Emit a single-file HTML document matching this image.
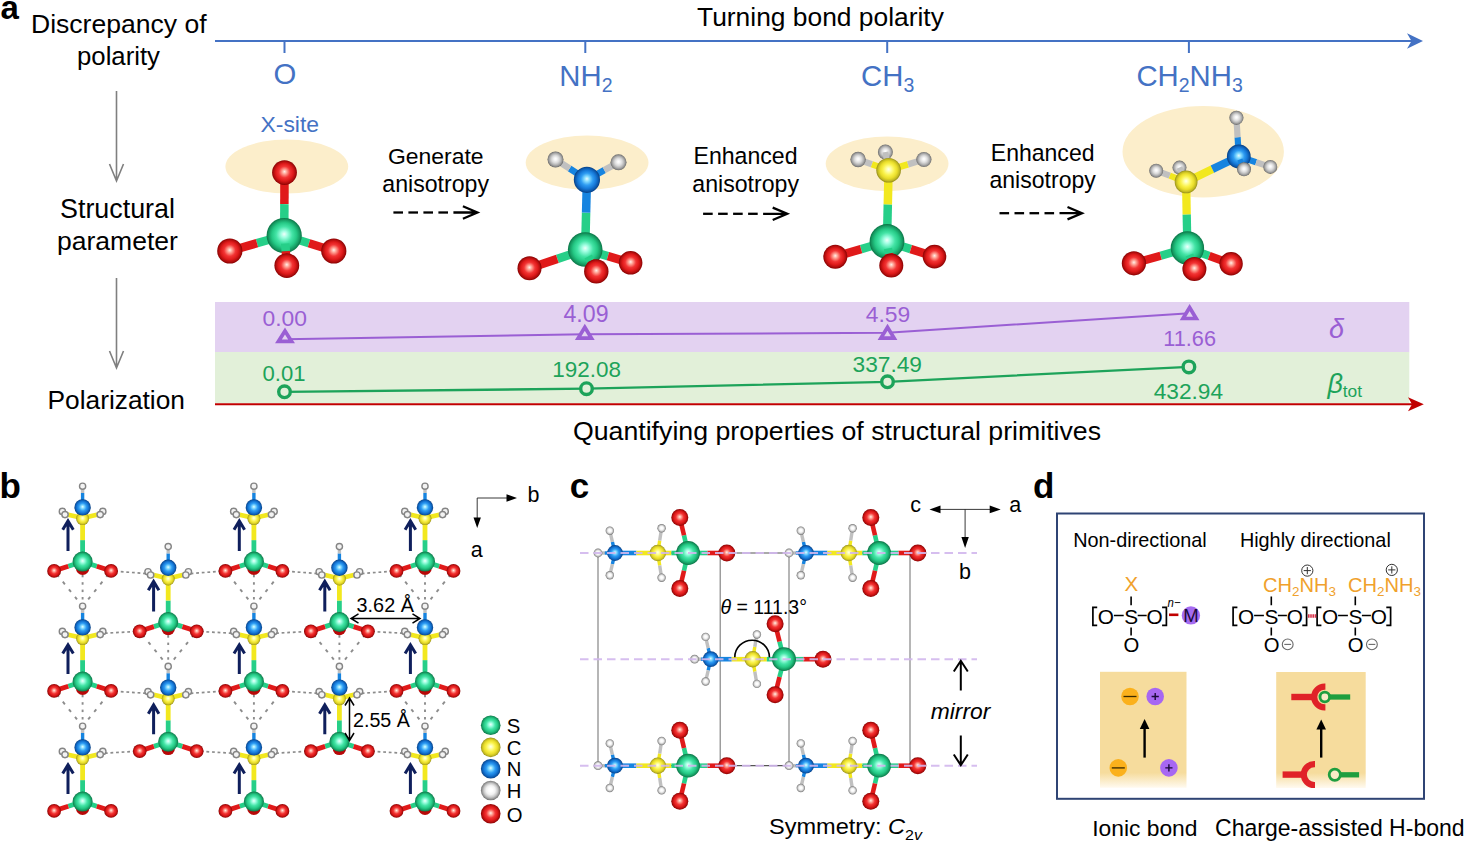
<!DOCTYPE html><html><head><meta charset="utf-8"><style>html,body{margin:0;padding:0;background:#fff}svg{display:block}svg,svg text,svg tspan{font-family:"Liberation Sans",sans-serif}</style></head><body>
<svg width="1466" height="843" viewBox="0 0 1466 843" >
<defs>
<radialGradient id="gO" cx="0.5" cy="0.5" r="0.5" fx="0.5" fy="0.46"><stop offset="0" stop-color="#fff0ea"/><stop offset="0.18" stop-color="#ffa698"/><stop offset="0.46" stop-color="#f23434"/><stop offset="0.7" stop-color="#de1a1a"/><stop offset="0.88" stop-color="#b00d0d"/><stop offset="1" stop-color="#860000"/></radialGradient>
<radialGradient id="gS" cx="0.5" cy="0.5" r="0.5" fx="0.5" fy="0.46"><stop offset="0" stop-color="#f0fffa"/><stop offset="0.18" stop-color="#a4ffe4"/><stop offset="0.46" stop-color="#44e4a6"/><stop offset="0.7" stop-color="#25c985"/><stop offset="0.88" stop-color="#169c63"/><stop offset="1" stop-color="#0b7446"/></radialGradient>
<radialGradient id="gN" cx="0.5" cy="0.5" r="0.5" fx="0.5" fy="0.46"><stop offset="0" stop-color="#e8fbff"/><stop offset="0.18" stop-color="#8ce0ff"/><stop offset="0.46" stop-color="#2e9cf2"/><stop offset="0.7" stop-color="#1679d8"/><stop offset="0.88" stop-color="#0c5aae"/><stop offset="1" stop-color="#073e82"/></radialGradient>
<radialGradient id="gC" cx="0.5" cy="0.5" r="0.5" fx="0.5" fy="0.46"><stop offset="0" stop-color="#fffff0"/><stop offset="0.18" stop-color="#ffffaa"/><stop offset="0.46" stop-color="#faf24c"/><stop offset="0.7" stop-color="#e9dd2a"/><stop offset="0.88" stop-color="#c2b922"/><stop offset="1" stop-color="#948c18"/></radialGradient>
<radialGradient id="gH" cx="0.5" cy="0.5" r="0.5" fx="0.5" fy="0.46"><stop offset="0" stop-color="#ffffff"/><stop offset="0.18" stop-color="#ffffff"/><stop offset="0.46" stop-color="#f2f2f2"/><stop offset="0.7" stop-color="#cacaca"/><stop offset="0.88" stop-color="#989898"/><stop offset="1" stop-color="#707070"/></radialGradient>
<radialGradient id="gG" cx="0.5" cy="0.5" r="0.5" fx="0.5" fy="0.46"><stop offset="0" stop-color="#ffffff"/><stop offset="0.18" stop-color="#f6f6f6"/><stop offset="0.46" stop-color="#dadada"/><stop offset="0.7" stop-color="#b4b4b4"/><stop offset="0.88" stop-color="#8e8e8e"/><stop offset="1" stop-color="#646464"/></radialGradient>
<linearGradient id="tanfade" x1="0" y1="0" x2="0" y2="1"><stop offset="0" stop-color="#f6dc9d"/><stop offset="0.87" stop-color="#f6dc9d"/><stop offset="1" stop-color="#fffaf0"/></linearGradient>
</defs>
<rect width="1466" height="843" fill="#fff"/>
<text x="0.5" y="19.3" font-size="33" fill="#000" font-weight="bold" >a</text>
<text x="31.0" y="33.0" font-size="26.55" fill="#000" textLength="175.6" lengthAdjust="spacingAndGlyphs" >Discrepancy of</text>
<text x="77.0" y="64.8" font-size="25.74" fill="#000" textLength="83.0" lengthAdjust="spacingAndGlyphs" >polarity</text>
<text x="57.0" y="250.0" font-size="26.54" fill="#000" textLength="120.9" lengthAdjust="spacingAndGlyphs" >parameter</text>
<text x="60.0" y="218.2" font-size="26.87" fill="#000" textLength="115.0" lengthAdjust="spacingAndGlyphs" >Structural</text>
<text x="47.5" y="409.2" font-size="26.32" fill="#000" textLength="137.5" lengthAdjust="spacingAndGlyphs" >Polarization</text>
<text x="697.0" y="26.4" font-size="26.39" fill="#000" textLength="246.9" lengthAdjust="spacingAndGlyphs" >Turning bond polarity</text>
<text x="573.0" y="439.6" font-size="26.69" fill="#000" textLength="528.0" lengthAdjust="spacingAndGlyphs" >Quantifying properties of structural primitives</text>
<path d="M116.5 91 V181 M109.5 164 L116.5 181 L123.5 164" fill="none" stroke="#7f7f7f" stroke-width="1.6"/>
<path d="M116.5 278 V368 M109.5 351 L116.5 368 L123.5 351" fill="none" stroke="#7f7f7f" stroke-width="1.6"/>
<line x1="215" y1="41" x2="1412" y2="41" stroke="#4472c4" stroke-width="2"/>
<path d="M1423 41 L1407 33.2 L1411.5 41 L1407 48.8 Z" fill="#4472c4"/>
<line x1="284.5" y1="41" x2="284.5" y2="53" stroke="#4472c4" stroke-width="2"/>
<line x1="585.3" y1="41" x2="585.3" y2="53" stroke="#4472c4" stroke-width="2"/>
<line x1="887.2" y1="41" x2="887.2" y2="53" stroke="#4472c4" stroke-width="2"/>
<line x1="1188.9" y1="41" x2="1188.9" y2="53" stroke="#4472c4" stroke-width="2"/>
<text x="285.0" y="83.6" font-size="29.3" fill="#4472c4" text-anchor="middle" >O</text>
<text x="585.9" y="86.3" font-size="29.3" fill="#4472c4" text-anchor="middle" >NH<tspan font-size="19.5" dy="5.5">2</tspan></text>
<text x="887.7" y="86.3" font-size="29.3" fill="#4472c4" text-anchor="middle" >CH<tspan font-size="19.5" dy="5.5">3</tspan></text>
<text x="1189.6" y="86.3" font-size="29.3" fill="#4472c4" text-anchor="middle" >CH<tspan font-size="19.5" dy="5.5">2</tspan><tspan dy="-5.5">NH</tspan><tspan font-size="19.5" dy="5.5">3</tspan></text>
<text x="260.5" y="131.8" font-size="22.9" fill="#4472c4" textLength="58.5" lengthAdjust="spacingAndGlyphs" >X-site</text>
<ellipse cx="286.8" cy="166.5" rx="61.4" ry="27" fill="#fceecb"/>
<ellipse cx="587.1" cy="162.7" rx="61.4" ry="27.2" fill="#fceecb"/>
<ellipse cx="887.1" cy="163.8" rx="61.4" ry="27.4" fill="#fceecb"/>
<ellipse cx="1203.2" cy="151.8" rx="80.7" ry="45.8" fill="#fceecb"/>
<text x="388.0" y="163.5" font-size="22.9" fill="#000" textLength="95.5" lengthAdjust="spacingAndGlyphs" >Generate</text>
<text x="382.3" y="191.5" font-size="23.12" fill="#000" textLength="106.7" lengthAdjust="spacingAndGlyphs" >anisotropy</text>
<text x="693.5" y="163.5" font-size="23.09" fill="#000" textLength="104.0" lengthAdjust="spacingAndGlyphs" >Enhanced</text>
<text x="692.3" y="191.5" font-size="23.12" fill="#000" textLength="106.7" lengthAdjust="spacingAndGlyphs" >anisotropy</text>
<text x="990.8" y="161.2" font-size="23.02" fill="#000" textLength="103.7" lengthAdjust="spacingAndGlyphs" >Enhanced</text>
<text x="989.5" y="188.3" font-size="23.03" fill="#000" textLength="106.3" lengthAdjust="spacingAndGlyphs" >anisotropy</text>
<line x1="393.4" y1="212.5" x2="403.0" y2="212.5" stroke="#000" stroke-width="2.3"/>
<line x1="408.4" y1="212.5" x2="418.0" y2="212.5" stroke="#000" stroke-width="2.3"/>
<line x1="423.4" y1="212.5" x2="433.0" y2="212.5" stroke="#000" stroke-width="2.3"/>
<line x1="438.4" y1="212.5" x2="448.0" y2="212.5" stroke="#000" stroke-width="2.3"/>
<path d="M453.4 212.5 H475.4 M462.9 206.3 L477.4 212.5 L462.9 218.7" fill="none" stroke="#000" stroke-width="2.3"/>
<line x1="703.1" y1="213.8" x2="712.7" y2="213.8" stroke="#000" stroke-width="2.3"/>
<line x1="718.1" y1="213.8" x2="727.7" y2="213.8" stroke="#000" stroke-width="2.3"/>
<line x1="733.1" y1="213.8" x2="742.7" y2="213.8" stroke="#000" stroke-width="2.3"/>
<line x1="748.1" y1="213.8" x2="757.7" y2="213.8" stroke="#000" stroke-width="2.3"/>
<path d="M763.1 213.8 H785.2 M772.7 207.60000000000002 L787.2 213.8 L772.7 220.0" fill="none" stroke="#000" stroke-width="2.3"/>
<line x1="999.5" y1="213.2" x2="1009.1" y2="213.2" stroke="#000" stroke-width="2.3"/>
<line x1="1014.5" y1="213.2" x2="1024.1" y2="213.2" stroke="#000" stroke-width="2.3"/>
<line x1="1029.5" y1="213.2" x2="1039.1" y2="213.2" stroke="#000" stroke-width="2.3"/>
<line x1="1044.5" y1="213.2" x2="1054.1" y2="213.2" stroke="#000" stroke-width="2.3"/>
<path d="M1059.5 213.2 H1080 M1067.5 207.0 L1082 213.2 L1067.5 219.39999999999998" fill="none" stroke="#000" stroke-width="2.3"/>
<line x1="284.2" y1="235.5" x2="284.4" y2="204.1" stroke="#26cf88" stroke-width="8.5"/>
<line x1="284.4" y1="204.1" x2="284.5" y2="172.6" stroke="#e01a1a" stroke-width="8.5"/>
<line x1="284.2" y1="235.5" x2="257.0" y2="243.2" stroke="#26cf88" stroke-width="8.5"/>
<line x1="257.0" y1="243.2" x2="229.8" y2="251.0" stroke="#e01a1a" stroke-width="8.5"/>
<line x1="284.2" y1="235.5" x2="309.0" y2="243.2" stroke="#26cf88" stroke-width="8.5"/>
<line x1="309.0" y1="243.2" x2="333.8" y2="251.0" stroke="#e01a1a" stroke-width="8.5"/>
<circle cx="284.5" cy="172.6" r="12.4" fill="url(#gO)"/>
<circle cx="229.8" cy="251.0" r="12.6" fill="url(#gO)"/>
<circle cx="333.8" cy="251.0" r="12.6" fill="url(#gO)"/>
<circle cx="284.2" cy="235.5" r="17.6" fill="url(#gS)"/>
<line x1="285.2" y1="243.5" x2="285.8" y2="251.2" stroke="#26cf88" stroke-width="8.5"/>
<line x1="285.8" y1="251.2" x2="286.8" y2="265.6" stroke="#e01a1a" stroke-width="8.5"/>
<circle cx="286.8" cy="265.6" r="12.4" fill="url(#gO)"/>
<line x1="585.2" y1="249.5" x2="586.1" y2="212.6" stroke="#26cf88" stroke-width="8.5"/>
<line x1="586.1" y1="212.6" x2="586.9" y2="179.8" stroke="#1684e0" stroke-width="8.5"/>
<line x1="586.9" y1="179.8" x2="569.6" y2="168.6" stroke="#1684e0" stroke-width="6.5"/>
<line x1="569.6" y1="168.6" x2="555.5" y2="159.5" stroke="#c0c0c0" stroke-width="6.5"/>
<line x1="586.9" y1="179.8" x2="604.3" y2="170.2" stroke="#1684e0" stroke-width="6.5"/>
<line x1="604.3" y1="170.2" x2="618.5" y2="162.3" stroke="#c0c0c0" stroke-width="6.5"/>
<line x1="585.2" y1="249.5" x2="557.4" y2="258.9" stroke="#26cf88" stroke-width="8.5"/>
<line x1="557.4" y1="258.9" x2="529.5" y2="268.3" stroke="#e01a1a" stroke-width="8.5"/>
<line x1="585.2" y1="249.5" x2="607.9" y2="256.1" stroke="#26cf88" stroke-width="8.5"/>
<line x1="607.9" y1="256.1" x2="630.6" y2="262.8" stroke="#e01a1a" stroke-width="8.5"/>
<circle cx="555.5" cy="159.5" r="8.0" fill="url(#gG)"/>
<circle cx="618.5" cy="162.3" r="8.0" fill="url(#gG)"/>
<circle cx="586.9" cy="179.8" r="13.1" fill="url(#gN)"/>
<circle cx="529.5" cy="268.3" r="12.0" fill="url(#gO)"/>
<circle cx="630.6" cy="262.8" r="11.8" fill="url(#gO)"/>
<circle cx="585.2" cy="249.5" r="17.3" fill="url(#gS)"/>
<line x1="588.2" y1="256.5" x2="590.6" y2="261.0" stroke="#26cf88" stroke-width="8.5"/>
<line x1="590.6" y1="261.0" x2="596.3" y2="271.4" stroke="#e01a1a" stroke-width="8.5"/>
<circle cx="596.3" cy="271.4" r="12.2" fill="url(#gO)"/>
<circle cx="885.4" cy="152.0" r="7.5" fill="url(#gG)"/>
<line x1="888.6" y1="170.2" x2="887.0" y2="161.1" stroke="#f2e81e" stroke-width="6"/>
<line x1="887.0" y1="161.1" x2="885.4" y2="152.0" stroke="#c0c0c0" stroke-width="6"/>
<line x1="887.0" y1="241.5" x2="887.8" y2="204.4" stroke="#26cf88" stroke-width="8.5"/>
<line x1="887.8" y1="204.4" x2="888.6" y2="170.2" stroke="#f2e81e" stroke-width="8.5"/>
<line x1="888.6" y1="170.2" x2="871.8" y2="164.3" stroke="#f2e81e" stroke-width="6.5"/>
<line x1="871.8" y1="164.3" x2="858.1" y2="159.5" stroke="#c0c0c0" stroke-width="6.5"/>
<line x1="888.6" y1="170.2" x2="908.0" y2="164.3" stroke="#f2e81e" stroke-width="6.5"/>
<line x1="908.0" y1="164.3" x2="923.9" y2="159.5" stroke="#c0c0c0" stroke-width="6.5"/>
<line x1="887.0" y1="241.5" x2="861.1" y2="249.1" stroke="#26cf88" stroke-width="8.5"/>
<line x1="861.1" y1="249.1" x2="835.3" y2="256.7" stroke="#e01a1a" stroke-width="8.5"/>
<line x1="887.0" y1="241.5" x2="910.8" y2="249.1" stroke="#26cf88" stroke-width="8.5"/>
<line x1="910.8" y1="249.1" x2="934.5" y2="256.6" stroke="#e01a1a" stroke-width="8.5"/>
<circle cx="858.1" cy="159.5" r="7.7" fill="url(#gG)"/>
<circle cx="923.9" cy="159.5" r="7.6" fill="url(#gG)"/>
<circle cx="888.6" cy="170.2" r="12.3" fill="url(#gC)"/>
<circle cx="835.3" cy="256.7" r="12.0" fill="url(#gO)"/>
<circle cx="934.5" cy="256.6" r="11.8" fill="url(#gO)"/>
<circle cx="887.0" cy="241.5" r="17.4" fill="url(#gS)"/>
<line x1="888.0" y1="248.5" x2="889.0" y2="253.6" stroke="#26cf88" stroke-width="8.5"/>
<line x1="889.0" y1="253.6" x2="891.3" y2="265.6" stroke="#e01a1a" stroke-width="8.5"/>
<circle cx="891.3" cy="265.6" r="12.0" fill="url(#gO)"/>
<circle cx="1179.5" cy="167.6" r="7.0" fill="url(#gG)"/>
<line x1="1186.1" y1="181.9" x2="1182.8" y2="174.8" stroke="#f2e81e" stroke-width="6"/>
<line x1="1182.8" y1="174.8" x2="1179.5" y2="167.6" stroke="#c0c0c0" stroke-width="6"/>
<line x1="1187.4" y1="248.0" x2="1186.7" y2="214.3" stroke="#26cf88" stroke-width="8.3"/>
<line x1="1186.7" y1="214.3" x2="1186.1" y2="181.9" stroke="#f2e81e" stroke-width="8.3"/>
<line x1="1186.1" y1="181.9" x2="1169.7" y2="175.7" stroke="#f2e81e" stroke-width="6.2"/>
<line x1="1169.7" y1="175.7" x2="1156.2" y2="170.7" stroke="#c0c0c0" stroke-width="6.2"/>
<line x1="1186.1" y1="181.9" x2="1212.4" y2="169.2" stroke="#f2e81e" stroke-width="8"/>
<line x1="1212.4" y1="169.2" x2="1238.8" y2="156.5" stroke="#1684e0" stroke-width="8"/>
<line x1="1238.8" y1="156.5" x2="1237.6" y2="137.2" stroke="#1684e0" stroke-width="6.2"/>
<line x1="1237.6" y1="137.2" x2="1236.4" y2="117.8" stroke="#c0c0c0" stroke-width="6.2"/>
<line x1="1238.8" y1="156.5" x2="1256.1" y2="162.2" stroke="#1684e0" stroke-width="6.2"/>
<line x1="1256.1" y1="162.2" x2="1270.3" y2="166.9" stroke="#c0c0c0" stroke-width="6.2"/>
<line x1="1187.4" y1="248.0" x2="1160.7" y2="255.7" stroke="#26cf88" stroke-width="8.3"/>
<line x1="1160.7" y1="255.7" x2="1133.9" y2="263.3" stroke="#e01a1a" stroke-width="8.3"/>
<line x1="1187.4" y1="248.0" x2="1209.2" y2="255.9" stroke="#26cf88" stroke-width="8.3"/>
<line x1="1209.2" y1="255.9" x2="1231.1" y2="263.8" stroke="#e01a1a" stroke-width="8.3"/>
<circle cx="1156.2" cy="170.7" r="7.0" fill="url(#gG)"/>
<circle cx="1236.4" cy="117.8" r="7.1" fill="url(#gG)"/>
<circle cx="1270.3" cy="166.9" r="7.0" fill="url(#gG)"/>
<circle cx="1186.1" cy="181.9" r="11.4" fill="url(#gC)"/>
<circle cx="1238.8" cy="156.5" r="11.9" fill="url(#gN)"/>
<line x1="1239.8" y1="159.5" x2="1241.5" y2="163.4" stroke="#1684e0" stroke-width="5.5"/>
<line x1="1241.5" y1="163.4" x2="1244.0" y2="169.3" stroke="#c0c0c0" stroke-width="5.5"/>
<circle cx="1244.0" cy="169.3" r="7.0" fill="url(#gG)"/>
<circle cx="1133.9" cy="263.3" r="12.1" fill="url(#gO)"/>
<circle cx="1231.1" cy="263.8" r="11.7" fill="url(#gO)"/>
<circle cx="1187.4" cy="248.0" r="16.7" fill="url(#gS)"/>
<line x1="1189.4" y1="255.0" x2="1190.9" y2="259.2" stroke="#26cf88" stroke-width="8.3"/>
<line x1="1190.9" y1="259.2" x2="1194.4" y2="269.0" stroke="#e01a1a" stroke-width="8.3"/>
<circle cx="1194.4" cy="269.0" r="12.0" fill="url(#gO)"/>
<rect x="215" y="302" width="1194.3" height="50.2" fill="#e3d2f1"/>
<rect x="215" y="352" width="1194.3" height="51" fill="#e2f0d9"/>
<line x1="215" y1="404.2" x2="1412" y2="404.2" stroke="#c00000" stroke-width="2"/>
<path d="M1423.8 404.2 L1408 397.2 L1412 404.2 L1408 411.2 Z" fill="#c00000"/>
<polyline points="285,339.2 584.8,334.3 887.5,332.8 1189.6,313.2" fill="none" stroke="#9a5fd4" stroke-width="2"/>
<polyline points="284.5,391.8 586.5,388.7 887.5,381.8 1188.9,366.9" fill="none" stroke="#1da35a" stroke-width="2.3"/>
<path d="M285 331.0 L291.6 341.4 L278.4 341.4 Z" fill="#e3d2f1" stroke="#9a5fd4" stroke-width="3.7" stroke-linejoin="miter"/>
<path d="M584.8 327.3 L591.4 338.1 L578.2 338.1 Z" fill="#e3d2f1" stroke="#9a5fd4" stroke-width="3.7" stroke-linejoin="miter"/>
<path d="M887.5 327.3 L894.1 338.1 L880.9 338.1 Z" fill="#e3d2f1" stroke="#9a5fd4" stroke-width="3.7" stroke-linejoin="miter"/>
<path d="M1189.6 307.5 L1196.2 318.5 L1183.0 318.5 Z" fill="#e3d2f1" stroke="#9a5fd4" stroke-width="3.7" stroke-linejoin="miter"/>
<circle cx="284.5" cy="391.8" r="5.8" fill="#e2f0d9" stroke="#1da35a" stroke-width="3.4"/>
<circle cx="586.5" cy="388.7" r="5.8" fill="#e2f0d9" stroke="#1da35a" stroke-width="3.4"/>
<circle cx="887.5" cy="381.8" r="5.8" fill="#e2f0d9" stroke="#1da35a" stroke-width="3.4"/>
<circle cx="1188.9" cy="366.9" r="5.8" fill="#e2f0d9" stroke="#1da35a" stroke-width="3.4"/>
<text x="262.5" y="326.3" font-size="22.88" fill="#9a5fd4" textLength="44.5" lengthAdjust="spacingAndGlyphs" >0.00</text>
<text x="563.5" y="322.0" font-size="23.14" fill="#9a5fd4" textLength="45.0" lengthAdjust="spacingAndGlyphs" >4.09</text>
<text x="865.8" y="321.8" font-size="22.88" fill="#9a5fd4" textLength="44.5" lengthAdjust="spacingAndGlyphs" >4.59</text>
<text x="1163.3" y="345.5" font-size="21.69" fill="#9a5fd4" textLength="52.7" lengthAdjust="spacingAndGlyphs" >11.66</text>
<text x="262.5" y="381.3" font-size="22.11" fill="#1da35a" textLength="43.0" lengthAdjust="spacingAndGlyphs" >0.01</text>
<text x="552.3" y="377.0" font-size="22.45" fill="#1da35a" textLength="68.7" lengthAdjust="spacingAndGlyphs" >192.08</text>
<text x="852.5" y="372.0" font-size="22.71" fill="#1da35a" textLength="69.5" lengthAdjust="spacingAndGlyphs" >337.49</text>
<text x="1153.7" y="398.8" font-size="22.65" fill="#1da35a" textLength="69.3" lengthAdjust="spacingAndGlyphs" >432.94</text>
<text x="1336.5" y="338.0" font-size="27" fill="#9a5fd4" text-anchor="middle" font-style="italic" >δ</text>
<text x="1327.5" y="392.5" font-size="27" fill="#1da35a" font-style="italic" >β</text>
<text x="1342.7" y="397.0" font-size="17.39" fill="#1da35a" textLength="19.3" lengthAdjust="spacingAndGlyphs" >tot</text>
<text x="-0.5" y="498.3" font-size="35" fill="#000" font-weight="bold" >b</text>
<line x1="56.8" y1="574.2" x2="58.8" y2="576.8" stroke="#8c8c8c" stroke-width="1.9"/>
<line x1="62.8" y1="581.7" x2="64.9" y2="584.3" stroke="#8c8c8c" stroke-width="1.9"/>
<line x1="68.9" y1="589.3" x2="71.0" y2="591.8" stroke="#8c8c8c" stroke-width="1.9"/>
<line x1="75.0" y1="596.8" x2="77.0" y2="599.3" stroke="#8c8c8c" stroke-width="1.9"/>
<line x1="81.1" y1="604.3" x2="83.1" y2="606.8" stroke="#8c8c8c" stroke-width="1.9"/>
<line x1="82.6" y1="574.9" x2="82.6" y2="577.3" stroke="#8c8c8c" stroke-width="1.9"/>
<line x1="82.6" y1="582.2" x2="82.6" y2="584.7" stroke="#8c8c8c" stroke-width="1.9"/>
<line x1="82.6" y1="589.6" x2="82.6" y2="592.1" stroke="#8c8c8c" stroke-width="1.9"/>
<line x1="82.6" y1="597.0" x2="82.6" y2="599.5" stroke="#8c8c8c" stroke-width="1.9"/>
<line x1="82.6" y1="604.3" x2="82.6" y2="606.8" stroke="#8c8c8c" stroke-width="1.9"/>
<line x1="108.4" y1="574.2" x2="106.4" y2="576.8" stroke="#8c8c8c" stroke-width="1.9"/>
<line x1="102.4" y1="581.7" x2="100.3" y2="584.3" stroke="#8c8c8c" stroke-width="1.9"/>
<line x1="96.3" y1="589.3" x2="94.2" y2="591.8" stroke="#8c8c8c" stroke-width="1.9"/>
<line x1="90.2" y1="596.8" x2="88.2" y2="599.3" stroke="#8c8c8c" stroke-width="1.9"/>
<line x1="84.1" y1="604.3" x2="82.1" y2="606.8" stroke="#8c8c8c" stroke-width="1.9"/>
<line x1="111.1" y1="570.9" x2="149.3" y2="573.8" stroke="#8c8c8c" stroke-width="1.7" stroke-dasharray="2.8 2.8" stroke-dashoffset="1.5" fill="none"/>
<line x1="56.8" y1="694.2" x2="58.8" y2="696.8" stroke="#8c8c8c" stroke-width="1.9"/>
<line x1="62.8" y1="701.7" x2="64.9" y2="704.3" stroke="#8c8c8c" stroke-width="1.9"/>
<line x1="68.9" y1="709.3" x2="71.0" y2="711.8" stroke="#8c8c8c" stroke-width="1.9"/>
<line x1="75.0" y1="716.8" x2="77.0" y2="719.3" stroke="#8c8c8c" stroke-width="1.9"/>
<line x1="81.1" y1="724.3" x2="83.1" y2="726.8" stroke="#8c8c8c" stroke-width="1.9"/>
<line x1="82.6" y1="694.9" x2="82.6" y2="697.3" stroke="#8c8c8c" stroke-width="1.9"/>
<line x1="82.6" y1="702.2" x2="82.6" y2="704.7" stroke="#8c8c8c" stroke-width="1.9"/>
<line x1="82.6" y1="709.6" x2="82.6" y2="712.1" stroke="#8c8c8c" stroke-width="1.9"/>
<line x1="82.6" y1="717.0" x2="82.6" y2="719.5" stroke="#8c8c8c" stroke-width="1.9"/>
<line x1="82.6" y1="724.3" x2="82.6" y2="726.8" stroke="#8c8c8c" stroke-width="1.9"/>
<line x1="108.4" y1="694.2" x2="106.4" y2="696.8" stroke="#8c8c8c" stroke-width="1.9"/>
<line x1="102.4" y1="701.7" x2="100.3" y2="704.3" stroke="#8c8c8c" stroke-width="1.9"/>
<line x1="96.3" y1="709.3" x2="94.2" y2="711.8" stroke="#8c8c8c" stroke-width="1.9"/>
<line x1="90.2" y1="716.8" x2="88.2" y2="719.3" stroke="#8c8c8c" stroke-width="1.9"/>
<line x1="84.1" y1="724.3" x2="82.1" y2="726.8" stroke="#8c8c8c" stroke-width="1.9"/>
<line x1="111.1" y1="690.9" x2="149.3" y2="693.6" stroke="#8c8c8c" stroke-width="1.7" stroke-dasharray="2.8 2.8" stroke-dashoffset="1.5" fill="none"/>
<line x1="142.4" y1="634.6" x2="144.4" y2="637.1" stroke="#8c8c8c" stroke-width="1.9"/>
<line x1="148.4" y1="642.1" x2="150.5" y2="644.6" stroke="#8c8c8c" stroke-width="1.9"/>
<line x1="154.5" y1="649.6" x2="156.6" y2="652.1" stroke="#8c8c8c" stroke-width="1.9"/>
<line x1="160.6" y1="657.0" x2="162.6" y2="659.6" stroke="#8c8c8c" stroke-width="1.9"/>
<line x1="166.7" y1="664.5" x2="168.7" y2="667.0" stroke="#8c8c8c" stroke-width="1.9"/>
<line x1="168.2" y1="635.2" x2="168.2" y2="637.7" stroke="#8c8c8c" stroke-width="1.9"/>
<line x1="168.2" y1="642.6" x2="168.2" y2="645.0" stroke="#8c8c8c" stroke-width="1.9"/>
<line x1="168.2" y1="649.9" x2="168.2" y2="652.4" stroke="#8c8c8c" stroke-width="1.9"/>
<line x1="168.2" y1="657.2" x2="168.2" y2="659.7" stroke="#8c8c8c" stroke-width="1.9"/>
<line x1="168.2" y1="664.5" x2="168.2" y2="667.0" stroke="#8c8c8c" stroke-width="1.9"/>
<line x1="194.0" y1="634.6" x2="192.0" y2="637.1" stroke="#8c8c8c" stroke-width="1.9"/>
<line x1="188.0" y1="642.1" x2="185.9" y2="644.6" stroke="#8c8c8c" stroke-width="1.9"/>
<line x1="181.9" y1="649.6" x2="179.8" y2="652.1" stroke="#8c8c8c" stroke-width="1.9"/>
<line x1="175.8" y1="657.0" x2="173.8" y2="659.6" stroke="#8c8c8c" stroke-width="1.9"/>
<line x1="169.7" y1="664.5" x2="167.7" y2="667.0" stroke="#8c8c8c" stroke-width="1.9"/>
<line x1="139.7" y1="631.3" x2="101.5" y2="633.4" stroke="#8c8c8c" stroke-width="1.7" stroke-dasharray="2.8 2.8" stroke-dashoffset="1.5" fill="none"/>
<line x1="196.7" y1="631.3" x2="235.0" y2="633.4" stroke="#8c8c8c" stroke-width="1.7" stroke-dasharray="2.8 2.8" stroke-dashoffset="1.5" fill="none"/>
<line x1="139.7" y1="751.1" x2="101.5" y2="753.4" stroke="#8c8c8c" stroke-width="1.7" stroke-dasharray="2.8 2.8" stroke-dashoffset="1.5" fill="none"/>
<line x1="196.7" y1="751.1" x2="235.0" y2="753.4" stroke="#8c8c8c" stroke-width="1.7" stroke-dasharray="2.8 2.8" stroke-dashoffset="1.5" fill="none"/>
<line x1="228.1" y1="574.2" x2="230.1" y2="576.8" stroke="#8c8c8c" stroke-width="1.9"/>
<line x1="234.1" y1="581.7" x2="236.2" y2="584.3" stroke="#8c8c8c" stroke-width="1.9"/>
<line x1="240.2" y1="589.3" x2="242.3" y2="591.8" stroke="#8c8c8c" stroke-width="1.9"/>
<line x1="246.3" y1="596.8" x2="248.3" y2="599.3" stroke="#8c8c8c" stroke-width="1.9"/>
<line x1="252.4" y1="604.3" x2="254.4" y2="606.8" stroke="#8c8c8c" stroke-width="1.9"/>
<line x1="253.9" y1="574.9" x2="253.9" y2="577.3" stroke="#8c8c8c" stroke-width="1.9"/>
<line x1="253.9" y1="582.2" x2="253.9" y2="584.7" stroke="#8c8c8c" stroke-width="1.9"/>
<line x1="253.9" y1="589.6" x2="253.9" y2="592.1" stroke="#8c8c8c" stroke-width="1.9"/>
<line x1="253.9" y1="597.0" x2="253.9" y2="599.5" stroke="#8c8c8c" stroke-width="1.9"/>
<line x1="253.9" y1="604.3" x2="253.9" y2="606.8" stroke="#8c8c8c" stroke-width="1.9"/>
<line x1="279.7" y1="574.2" x2="277.7" y2="576.8" stroke="#8c8c8c" stroke-width="1.9"/>
<line x1="273.7" y1="581.7" x2="271.6" y2="584.3" stroke="#8c8c8c" stroke-width="1.9"/>
<line x1="267.6" y1="589.3" x2="265.5" y2="591.8" stroke="#8c8c8c" stroke-width="1.9"/>
<line x1="261.5" y1="596.8" x2="259.5" y2="599.3" stroke="#8c8c8c" stroke-width="1.9"/>
<line x1="255.4" y1="604.3" x2="253.4" y2="606.8" stroke="#8c8c8c" stroke-width="1.9"/>
<line x1="225.4" y1="570.9" x2="187.1" y2="573.8" stroke="#8c8c8c" stroke-width="1.7" stroke-dasharray="2.8 2.8" stroke-dashoffset="1.5" fill="none"/>
<line x1="282.4" y1="570.9" x2="320.5" y2="573.8" stroke="#8c8c8c" stroke-width="1.7" stroke-dasharray="2.8 2.8" stroke-dashoffset="1.5" fill="none"/>
<line x1="228.1" y1="694.2" x2="230.1" y2="696.8" stroke="#8c8c8c" stroke-width="1.9"/>
<line x1="234.1" y1="701.7" x2="236.2" y2="704.3" stroke="#8c8c8c" stroke-width="1.9"/>
<line x1="240.2" y1="709.3" x2="242.3" y2="711.8" stroke="#8c8c8c" stroke-width="1.9"/>
<line x1="246.3" y1="716.8" x2="248.3" y2="719.3" stroke="#8c8c8c" stroke-width="1.9"/>
<line x1="252.4" y1="724.3" x2="254.4" y2="726.8" stroke="#8c8c8c" stroke-width="1.9"/>
<line x1="253.9" y1="694.9" x2="253.9" y2="697.3" stroke="#8c8c8c" stroke-width="1.9"/>
<line x1="253.9" y1="702.2" x2="253.9" y2="704.7" stroke="#8c8c8c" stroke-width="1.9"/>
<line x1="253.9" y1="709.6" x2="253.9" y2="712.1" stroke="#8c8c8c" stroke-width="1.9"/>
<line x1="253.9" y1="717.0" x2="253.9" y2="719.5" stroke="#8c8c8c" stroke-width="1.9"/>
<line x1="253.9" y1="724.3" x2="253.9" y2="726.8" stroke="#8c8c8c" stroke-width="1.9"/>
<line x1="279.7" y1="694.2" x2="277.7" y2="696.8" stroke="#8c8c8c" stroke-width="1.9"/>
<line x1="273.7" y1="701.7" x2="271.6" y2="704.3" stroke="#8c8c8c" stroke-width="1.9"/>
<line x1="267.6" y1="709.3" x2="265.5" y2="711.8" stroke="#8c8c8c" stroke-width="1.9"/>
<line x1="261.5" y1="716.8" x2="259.5" y2="719.3" stroke="#8c8c8c" stroke-width="1.9"/>
<line x1="255.4" y1="724.3" x2="253.4" y2="726.8" stroke="#8c8c8c" stroke-width="1.9"/>
<line x1="225.4" y1="690.9" x2="187.1" y2="693.6" stroke="#8c8c8c" stroke-width="1.7" stroke-dasharray="2.8 2.8" stroke-dashoffset="1.5" fill="none"/>
<line x1="282.4" y1="690.9" x2="320.5" y2="693.6" stroke="#8c8c8c" stroke-width="1.7" stroke-dasharray="2.8 2.8" stroke-dashoffset="1.5" fill="none"/>
<line x1="313.6" y1="634.6" x2="315.6" y2="637.1" stroke="#8c8c8c" stroke-width="1.9"/>
<line x1="319.6" y1="642.1" x2="321.7" y2="644.6" stroke="#8c8c8c" stroke-width="1.9"/>
<line x1="325.7" y1="649.6" x2="327.8" y2="652.1" stroke="#8c8c8c" stroke-width="1.9"/>
<line x1="331.8" y1="657.0" x2="333.8" y2="659.6" stroke="#8c8c8c" stroke-width="1.9"/>
<line x1="337.9" y1="664.5" x2="339.9" y2="667.0" stroke="#8c8c8c" stroke-width="1.9"/>
<line x1="339.4" y1="635.2" x2="339.4" y2="637.7" stroke="#8c8c8c" stroke-width="1.9"/>
<line x1="339.4" y1="642.6" x2="339.4" y2="645.0" stroke="#8c8c8c" stroke-width="1.9"/>
<line x1="339.4" y1="649.9" x2="339.4" y2="652.4" stroke="#8c8c8c" stroke-width="1.9"/>
<line x1="339.4" y1="657.2" x2="339.4" y2="659.7" stroke="#8c8c8c" stroke-width="1.9"/>
<line x1="339.4" y1="664.5" x2="339.4" y2="667.0" stroke="#8c8c8c" stroke-width="1.9"/>
<line x1="365.2" y1="634.6" x2="363.2" y2="637.1" stroke="#8c8c8c" stroke-width="1.9"/>
<line x1="359.2" y1="642.1" x2="357.1" y2="644.6" stroke="#8c8c8c" stroke-width="1.9"/>
<line x1="353.1" y1="649.6" x2="351.0" y2="652.1" stroke="#8c8c8c" stroke-width="1.9"/>
<line x1="347.0" y1="657.0" x2="345.0" y2="659.6" stroke="#8c8c8c" stroke-width="1.9"/>
<line x1="340.9" y1="664.5" x2="338.9" y2="667.0" stroke="#8c8c8c" stroke-width="1.9"/>
<line x1="310.9" y1="631.3" x2="272.8" y2="633.4" stroke="#8c8c8c" stroke-width="1.7" stroke-dasharray="2.8 2.8" stroke-dashoffset="1.5" fill="none"/>
<line x1="367.9" y1="631.3" x2="406.1" y2="633.4" stroke="#8c8c8c" stroke-width="1.7" stroke-dasharray="2.8 2.8" stroke-dashoffset="1.5" fill="none"/>
<line x1="310.9" y1="751.1" x2="272.8" y2="753.4" stroke="#8c8c8c" stroke-width="1.7" stroke-dasharray="2.8 2.8" stroke-dashoffset="1.5" fill="none"/>
<line x1="367.9" y1="751.1" x2="406.1" y2="753.4" stroke="#8c8c8c" stroke-width="1.7" stroke-dasharray="2.8 2.8" stroke-dashoffset="1.5" fill="none"/>
<line x1="399.2" y1="574.2" x2="401.2" y2="576.8" stroke="#8c8c8c" stroke-width="1.9"/>
<line x1="405.2" y1="581.7" x2="407.3" y2="584.3" stroke="#8c8c8c" stroke-width="1.9"/>
<line x1="411.3" y1="589.3" x2="413.4" y2="591.8" stroke="#8c8c8c" stroke-width="1.9"/>
<line x1="417.4" y1="596.8" x2="419.4" y2="599.3" stroke="#8c8c8c" stroke-width="1.9"/>
<line x1="423.5" y1="604.3" x2="425.5" y2="606.8" stroke="#8c8c8c" stroke-width="1.9"/>
<line x1="425.0" y1="574.9" x2="425.0" y2="577.3" stroke="#8c8c8c" stroke-width="1.9"/>
<line x1="425.0" y1="582.2" x2="425.0" y2="584.7" stroke="#8c8c8c" stroke-width="1.9"/>
<line x1="425.0" y1="589.6" x2="425.0" y2="592.1" stroke="#8c8c8c" stroke-width="1.9"/>
<line x1="425.0" y1="597.0" x2="425.0" y2="599.5" stroke="#8c8c8c" stroke-width="1.9"/>
<line x1="425.0" y1="604.3" x2="425.0" y2="606.8" stroke="#8c8c8c" stroke-width="1.9"/>
<line x1="450.8" y1="574.2" x2="448.8" y2="576.8" stroke="#8c8c8c" stroke-width="1.9"/>
<line x1="444.8" y1="581.7" x2="442.7" y2="584.3" stroke="#8c8c8c" stroke-width="1.9"/>
<line x1="438.7" y1="589.3" x2="436.6" y2="591.8" stroke="#8c8c8c" stroke-width="1.9"/>
<line x1="432.6" y1="596.8" x2="430.6" y2="599.3" stroke="#8c8c8c" stroke-width="1.9"/>
<line x1="426.5" y1="604.3" x2="424.5" y2="606.8" stroke="#8c8c8c" stroke-width="1.9"/>
<line x1="396.5" y1="570.9" x2="358.3" y2="573.8" stroke="#8c8c8c" stroke-width="1.7" stroke-dasharray="2.8 2.8" stroke-dashoffset="1.5" fill="none"/>
<line x1="399.2" y1="694.2" x2="401.2" y2="696.8" stroke="#8c8c8c" stroke-width="1.9"/>
<line x1="405.2" y1="701.7" x2="407.3" y2="704.3" stroke="#8c8c8c" stroke-width="1.9"/>
<line x1="411.3" y1="709.3" x2="413.4" y2="711.8" stroke="#8c8c8c" stroke-width="1.9"/>
<line x1="417.4" y1="716.8" x2="419.4" y2="719.3" stroke="#8c8c8c" stroke-width="1.9"/>
<line x1="423.5" y1="724.3" x2="425.5" y2="726.8" stroke="#8c8c8c" stroke-width="1.9"/>
<line x1="425.0" y1="694.9" x2="425.0" y2="697.3" stroke="#8c8c8c" stroke-width="1.9"/>
<line x1="425.0" y1="702.2" x2="425.0" y2="704.7" stroke="#8c8c8c" stroke-width="1.9"/>
<line x1="425.0" y1="709.6" x2="425.0" y2="712.1" stroke="#8c8c8c" stroke-width="1.9"/>
<line x1="425.0" y1="717.0" x2="425.0" y2="719.5" stroke="#8c8c8c" stroke-width="1.9"/>
<line x1="425.0" y1="724.3" x2="425.0" y2="726.8" stroke="#8c8c8c" stroke-width="1.9"/>
<line x1="450.8" y1="694.2" x2="448.8" y2="696.8" stroke="#8c8c8c" stroke-width="1.9"/>
<line x1="444.8" y1="701.7" x2="442.7" y2="704.3" stroke="#8c8c8c" stroke-width="1.9"/>
<line x1="438.7" y1="709.3" x2="436.6" y2="711.8" stroke="#8c8c8c" stroke-width="1.9"/>
<line x1="432.6" y1="716.8" x2="430.6" y2="719.3" stroke="#8c8c8c" stroke-width="1.9"/>
<line x1="426.5" y1="724.3" x2="424.5" y2="726.8" stroke="#8c8c8c" stroke-width="1.9"/>
<line x1="396.5" y1="690.9" x2="358.3" y2="693.6" stroke="#8c8c8c" stroke-width="1.7" stroke-dasharray="2.8 2.8" stroke-dashoffset="1.5" fill="none"/>
<circle cx="82.6" cy="568.2" r="6.7" fill="#b80808"/>
<line x1="82.6" y1="561.6" x2="68.3" y2="566.2" stroke="#26cf88" stroke-width="4.8"/>
<line x1="68.3" y1="566.2" x2="54.1" y2="570.9" stroke="#e01a1a" stroke-width="4.8"/>
<line x1="82.6" y1="561.6" x2="96.8" y2="566.2" stroke="#26cf88" stroke-width="4.8"/>
<line x1="96.8" y1="566.2" x2="111.1" y2="570.9" stroke="#e01a1a" stroke-width="4.8"/>
<line x1="82.6" y1="561.6" x2="82.6" y2="540.1" stroke="#26cf88" stroke-width="4.8"/>
<line x1="82.6" y1="540.1" x2="82.6" y2="518.6" stroke="#f2e81e" stroke-width="4.8"/>
<line x1="82.6" y1="518.1" x2="67.1" y2="514.4" stroke="#f2e81e" stroke-width="4.6" stroke-linecap="round"/>
<line x1="68.6" y1="514.6" x2="64.6" y2="513.4" stroke="#bdbdbd" stroke-width="3.4"/>
<line x1="82.6" y1="518.1" x2="98.1" y2="514.4" stroke="#f2e81e" stroke-width="4.6" stroke-linecap="round"/>
<line x1="96.6" y1="514.6" x2="100.6" y2="513.4" stroke="#bdbdbd" stroke-width="3.4"/>
<circle cx="82.6" cy="518.6" r="6.5" fill="url(#gC)"/>
<circle cx="62.4" cy="511.4" r="3.15" fill="#f3f3f3" stroke="#858585" stroke-width="1.4"/>
<circle cx="65.0" cy="514.6" r="3.15" fill="#f3f3f3" stroke="#858585" stroke-width="1.4"/>
<circle cx="102.8" cy="511.4" r="3.15" fill="#f3f3f3" stroke="#858585" stroke-width="1.4"/>
<circle cx="100.2" cy="514.6" r="3.15" fill="#f3f3f3" stroke="#858585" stroke-width="1.4"/>
<line x1="82.6" y1="507.6" x2="82.6" y2="493.0" stroke="#1684e0" stroke-width="3.4"/>
<line x1="82.6" y1="493.0" x2="82.6" y2="486.2" stroke="#c0c0c0" stroke-width="3.4"/>
<circle cx="82.6" cy="486.20000000000005" r="3.1" fill="#f3f3f3" stroke="#858585" stroke-width="1.4"/>
<circle cx="82.6" cy="507.4" r="8.2" fill="url(#gN)"/>
<circle cx="54.1" cy="570.9" r="6.9" fill="url(#gO)"/>
<circle cx="111.1" cy="570.9" r="6.9" fill="url(#gO)"/>
<circle cx="82.6" cy="561.6" r="10.0" fill="url(#gS)"/>
<path d="M68.0 551.0 V522.4 M62.7 529.8 L68.0 521.0 L73.3 529.8" fill="none" stroke="#0f1f5c" stroke-width="3" stroke-linejoin="miter"/>
<circle cx="82.6" cy="688.2" r="6.7" fill="#b80808"/>
<line x1="82.6" y1="681.6" x2="68.3" y2="686.2" stroke="#26cf88" stroke-width="4.8"/>
<line x1="68.3" y1="686.2" x2="54.1" y2="690.9" stroke="#e01a1a" stroke-width="4.8"/>
<line x1="82.6" y1="681.6" x2="96.8" y2="686.2" stroke="#26cf88" stroke-width="4.8"/>
<line x1="96.8" y1="686.2" x2="111.1" y2="690.9" stroke="#e01a1a" stroke-width="4.8"/>
<line x1="82.6" y1="681.6" x2="82.6" y2="660.1" stroke="#26cf88" stroke-width="4.8"/>
<line x1="82.6" y1="660.1" x2="82.6" y2="638.6" stroke="#f2e81e" stroke-width="4.8"/>
<line x1="82.6" y1="638.1" x2="67.1" y2="634.4" stroke="#f2e81e" stroke-width="4.6" stroke-linecap="round"/>
<line x1="68.6" y1="634.6" x2="64.6" y2="633.4" stroke="#bdbdbd" stroke-width="3.4"/>
<line x1="82.6" y1="638.1" x2="98.1" y2="634.4" stroke="#f2e81e" stroke-width="4.6" stroke-linecap="round"/>
<line x1="96.6" y1="634.6" x2="100.6" y2="633.4" stroke="#bdbdbd" stroke-width="3.4"/>
<circle cx="82.6" cy="638.6" r="6.5" fill="url(#gC)"/>
<circle cx="62.4" cy="631.4" r="3.15" fill="#f3f3f3" stroke="#858585" stroke-width="1.4"/>
<circle cx="65.0" cy="634.6" r="3.15" fill="#f3f3f3" stroke="#858585" stroke-width="1.4"/>
<circle cx="102.8" cy="631.4" r="3.15" fill="#f3f3f3" stroke="#858585" stroke-width="1.4"/>
<circle cx="100.2" cy="634.6" r="3.15" fill="#f3f3f3" stroke="#858585" stroke-width="1.4"/>
<line x1="82.6" y1="627.6" x2="82.6" y2="613.0" stroke="#1684e0" stroke-width="3.4"/>
<line x1="82.6" y1="613.0" x2="82.6" y2="606.2" stroke="#c0c0c0" stroke-width="3.4"/>
<circle cx="82.6" cy="606.2" r="3.1" fill="#f3f3f3" stroke="#858585" stroke-width="1.4"/>
<circle cx="82.6" cy="627.4" r="8.2" fill="url(#gN)"/>
<circle cx="54.1" cy="690.9" r="6.9" fill="url(#gO)"/>
<circle cx="111.1" cy="690.9" r="6.9" fill="url(#gO)"/>
<circle cx="82.6" cy="681.6" r="10.0" fill="url(#gS)"/>
<path d="M68.0 674.0 V646.2 M62.7 653.6 L68.0 644.8 L73.3 653.6" fill="none" stroke="#0f1f5c" stroke-width="3" stroke-linejoin="miter"/>
<circle cx="82.6" cy="808.2" r="6.7" fill="#b80808"/>
<line x1="82.6" y1="801.6" x2="68.3" y2="806.2" stroke="#26cf88" stroke-width="4.8"/>
<line x1="68.3" y1="806.2" x2="54.1" y2="810.9" stroke="#e01a1a" stroke-width="4.8"/>
<line x1="82.6" y1="801.6" x2="96.8" y2="806.2" stroke="#26cf88" stroke-width="4.8"/>
<line x1="96.8" y1="806.2" x2="111.1" y2="810.9" stroke="#e01a1a" stroke-width="4.8"/>
<line x1="82.6" y1="801.6" x2="82.6" y2="780.1" stroke="#26cf88" stroke-width="4.8"/>
<line x1="82.6" y1="780.1" x2="82.6" y2="758.6" stroke="#f2e81e" stroke-width="4.8"/>
<line x1="82.6" y1="758.1" x2="67.1" y2="754.4" stroke="#f2e81e" stroke-width="4.6" stroke-linecap="round"/>
<line x1="68.6" y1="754.6" x2="64.6" y2="753.4" stroke="#bdbdbd" stroke-width="3.4"/>
<line x1="82.6" y1="758.1" x2="98.1" y2="754.4" stroke="#f2e81e" stroke-width="4.6" stroke-linecap="round"/>
<line x1="96.6" y1="754.6" x2="100.6" y2="753.4" stroke="#bdbdbd" stroke-width="3.4"/>
<circle cx="82.6" cy="758.6" r="6.5" fill="url(#gC)"/>
<circle cx="62.4" cy="751.4" r="3.15" fill="#f3f3f3" stroke="#858585" stroke-width="1.4"/>
<circle cx="65.0" cy="754.6" r="3.15" fill="#f3f3f3" stroke="#858585" stroke-width="1.4"/>
<circle cx="102.8" cy="751.4" r="3.15" fill="#f3f3f3" stroke="#858585" stroke-width="1.4"/>
<circle cx="100.2" cy="754.6" r="3.15" fill="#f3f3f3" stroke="#858585" stroke-width="1.4"/>
<line x1="82.6" y1="747.6" x2="82.6" y2="733.0" stroke="#1684e0" stroke-width="3.4"/>
<line x1="82.6" y1="733.0" x2="82.6" y2="726.2" stroke="#c0c0c0" stroke-width="3.4"/>
<circle cx="82.6" cy="726.2" r="3.1" fill="#f3f3f3" stroke="#858585" stroke-width="1.4"/>
<circle cx="82.6" cy="747.4" r="8.2" fill="url(#gN)"/>
<circle cx="54.1" cy="810.9" r="6.9" fill="url(#gO)"/>
<circle cx="111.1" cy="810.9" r="6.9" fill="url(#gO)"/>
<circle cx="82.6" cy="801.6" r="10.0" fill="url(#gS)"/>
<path d="M68.0 794.0 V766.2 M62.7 773.6 L68.0 764.8 L73.3 773.6" fill="none" stroke="#0f1f5c" stroke-width="3" stroke-linejoin="miter"/>
<circle cx="168.2" cy="628.6" r="6.7" fill="#b80808"/>
<line x1="168.2" y1="622.0" x2="153.9" y2="626.6" stroke="#26cf88" stroke-width="4.8"/>
<line x1="153.9" y1="626.6" x2="139.7" y2="631.3" stroke="#e01a1a" stroke-width="4.8"/>
<line x1="168.2" y1="622.0" x2="182.4" y2="626.6" stroke="#26cf88" stroke-width="4.8"/>
<line x1="182.4" y1="626.6" x2="196.7" y2="631.3" stroke="#e01a1a" stroke-width="4.8"/>
<line x1="168.2" y1="622.0" x2="168.2" y2="600.5" stroke="#26cf88" stroke-width="4.8"/>
<line x1="168.2" y1="600.5" x2="168.2" y2="579.0" stroke="#f2e81e" stroke-width="4.8"/>
<line x1="168.2" y1="578.5" x2="152.7" y2="574.8" stroke="#f2e81e" stroke-width="4.6" stroke-linecap="round"/>
<line x1="154.2" y1="575.0" x2="150.2" y2="573.8" stroke="#bdbdbd" stroke-width="3.4"/>
<line x1="168.2" y1="578.5" x2="183.7" y2="574.8" stroke="#f2e81e" stroke-width="4.6" stroke-linecap="round"/>
<line x1="182.2" y1="575.0" x2="186.2" y2="573.8" stroke="#bdbdbd" stroke-width="3.4"/>
<circle cx="168.2" cy="579.0" r="6.5" fill="url(#gC)"/>
<circle cx="148.0" cy="571.8" r="3.15" fill="#f3f3f3" stroke="#858585" stroke-width="1.4"/>
<circle cx="150.6" cy="575.0" r="3.15" fill="#f3f3f3" stroke="#858585" stroke-width="1.4"/>
<circle cx="188.4" cy="571.8" r="3.15" fill="#f3f3f3" stroke="#858585" stroke-width="1.4"/>
<circle cx="185.8" cy="575.0" r="3.15" fill="#f3f3f3" stroke="#858585" stroke-width="1.4"/>
<line x1="168.2" y1="568.0" x2="168.2" y2="553.4" stroke="#1684e0" stroke-width="3.4"/>
<line x1="168.2" y1="553.4" x2="168.2" y2="546.6" stroke="#c0c0c0" stroke-width="3.4"/>
<circle cx="168.2" cy="546.6" r="3.1" fill="#f3f3f3" stroke="#858585" stroke-width="1.4"/>
<circle cx="168.2" cy="567.8" r="8.2" fill="url(#gN)"/>
<circle cx="139.7" cy="631.3" r="6.9" fill="url(#gO)"/>
<circle cx="196.7" cy="631.3" r="6.9" fill="url(#gO)"/>
<circle cx="168.2" cy="622.0" r="10.0" fill="url(#gS)"/>
<path d="M153.6 611.4 V582.8 M148.3 590.2 L153.6 581.4 L158.9 590.2" fill="none" stroke="#0f1f5c" stroke-width="3" stroke-linejoin="miter"/>
<circle cx="168.2" cy="748.4" r="6.7" fill="#b80808"/>
<line x1="168.2" y1="741.8" x2="153.9" y2="746.4" stroke="#26cf88" stroke-width="4.8"/>
<line x1="153.9" y1="746.4" x2="139.7" y2="751.1" stroke="#e01a1a" stroke-width="4.8"/>
<line x1="168.2" y1="741.8" x2="182.4" y2="746.4" stroke="#26cf88" stroke-width="4.8"/>
<line x1="182.4" y1="746.4" x2="196.7" y2="751.1" stroke="#e01a1a" stroke-width="4.8"/>
<line x1="168.2" y1="741.8" x2="168.2" y2="720.3" stroke="#26cf88" stroke-width="4.8"/>
<line x1="168.2" y1="720.3" x2="168.2" y2="698.8" stroke="#f2e81e" stroke-width="4.8"/>
<line x1="168.2" y1="698.3" x2="152.7" y2="694.6" stroke="#f2e81e" stroke-width="4.6" stroke-linecap="round"/>
<line x1="154.2" y1="694.8" x2="150.2" y2="693.6" stroke="#bdbdbd" stroke-width="3.4"/>
<line x1="168.2" y1="698.3" x2="183.7" y2="694.6" stroke="#f2e81e" stroke-width="4.6" stroke-linecap="round"/>
<line x1="182.2" y1="694.8" x2="186.2" y2="693.6" stroke="#bdbdbd" stroke-width="3.4"/>
<circle cx="168.2" cy="698.8" r="6.5" fill="url(#gC)"/>
<circle cx="148.0" cy="691.6" r="3.15" fill="#f3f3f3" stroke="#858585" stroke-width="1.4"/>
<circle cx="150.6" cy="694.8" r="3.15" fill="#f3f3f3" stroke="#858585" stroke-width="1.4"/>
<circle cx="188.4" cy="691.6" r="3.15" fill="#f3f3f3" stroke="#858585" stroke-width="1.4"/>
<circle cx="185.8" cy="694.8" r="3.15" fill="#f3f3f3" stroke="#858585" stroke-width="1.4"/>
<line x1="168.2" y1="687.8" x2="168.2" y2="673.2" stroke="#1684e0" stroke-width="3.4"/>
<line x1="168.2" y1="673.2" x2="168.2" y2="666.4" stroke="#c0c0c0" stroke-width="3.4"/>
<circle cx="168.2" cy="666.4" r="3.1" fill="#f3f3f3" stroke="#858585" stroke-width="1.4"/>
<circle cx="168.2" cy="687.6" r="8.2" fill="url(#gN)"/>
<circle cx="139.7" cy="751.1" r="6.9" fill="url(#gO)"/>
<circle cx="196.7" cy="751.1" r="6.9" fill="url(#gO)"/>
<circle cx="168.2" cy="741.8" r="10.0" fill="url(#gS)"/>
<path d="M153.6 734.2 V706.4 M148.3 713.8 L153.6 705.0 L158.9 713.8" fill="none" stroke="#0f1f5c" stroke-width="3" stroke-linejoin="miter"/>
<circle cx="253.9" cy="568.2" r="6.7" fill="#b80808"/>
<line x1="253.9" y1="561.6" x2="239.7" y2="566.2" stroke="#26cf88" stroke-width="4.8"/>
<line x1="239.7" y1="566.2" x2="225.4" y2="570.9" stroke="#e01a1a" stroke-width="4.8"/>
<line x1="253.9" y1="561.6" x2="268.1" y2="566.2" stroke="#26cf88" stroke-width="4.8"/>
<line x1="268.1" y1="566.2" x2="282.4" y2="570.9" stroke="#e01a1a" stroke-width="4.8"/>
<line x1="253.9" y1="561.6" x2="253.9" y2="540.1" stroke="#26cf88" stroke-width="4.8"/>
<line x1="253.9" y1="540.1" x2="253.9" y2="518.6" stroke="#f2e81e" stroke-width="4.8"/>
<line x1="253.9" y1="518.1" x2="238.4" y2="514.4" stroke="#f2e81e" stroke-width="4.6" stroke-linecap="round"/>
<line x1="239.9" y1="514.6" x2="235.9" y2="513.4" stroke="#bdbdbd" stroke-width="3.4"/>
<line x1="253.9" y1="518.1" x2="269.4" y2="514.4" stroke="#f2e81e" stroke-width="4.6" stroke-linecap="round"/>
<line x1="267.9" y1="514.6" x2="271.9" y2="513.4" stroke="#bdbdbd" stroke-width="3.4"/>
<circle cx="253.9" cy="518.6" r="6.5" fill="url(#gC)"/>
<circle cx="233.7" cy="511.4" r="3.15" fill="#f3f3f3" stroke="#858585" stroke-width="1.4"/>
<circle cx="236.3" cy="514.6" r="3.15" fill="#f3f3f3" stroke="#858585" stroke-width="1.4"/>
<circle cx="274.1" cy="511.4" r="3.15" fill="#f3f3f3" stroke="#858585" stroke-width="1.4"/>
<circle cx="271.5" cy="514.6" r="3.15" fill="#f3f3f3" stroke="#858585" stroke-width="1.4"/>
<line x1="253.9" y1="507.6" x2="253.9" y2="493.0" stroke="#1684e0" stroke-width="3.4"/>
<line x1="253.9" y1="493.0" x2="253.9" y2="486.2" stroke="#c0c0c0" stroke-width="3.4"/>
<circle cx="253.9" cy="486.20000000000005" r="3.1" fill="#f3f3f3" stroke="#858585" stroke-width="1.4"/>
<circle cx="253.9" cy="507.4" r="8.2" fill="url(#gN)"/>
<circle cx="225.4" cy="570.9" r="6.9" fill="url(#gO)"/>
<circle cx="282.4" cy="570.9" r="6.9" fill="url(#gO)"/>
<circle cx="253.9" cy="561.6" r="10.0" fill="url(#gS)"/>
<path d="M239.3 551.0 V522.4 M234.0 529.8 L239.3 521.0 L244.6 529.8" fill="none" stroke="#0f1f5c" stroke-width="3" stroke-linejoin="miter"/>
<circle cx="253.9" cy="688.2" r="6.7" fill="#b80808"/>
<line x1="253.9" y1="681.6" x2="239.7" y2="686.2" stroke="#26cf88" stroke-width="4.8"/>
<line x1="239.7" y1="686.2" x2="225.4" y2="690.9" stroke="#e01a1a" stroke-width="4.8"/>
<line x1="253.9" y1="681.6" x2="268.1" y2="686.2" stroke="#26cf88" stroke-width="4.8"/>
<line x1="268.1" y1="686.2" x2="282.4" y2="690.9" stroke="#e01a1a" stroke-width="4.8"/>
<line x1="253.9" y1="681.6" x2="253.9" y2="660.1" stroke="#26cf88" stroke-width="4.8"/>
<line x1="253.9" y1="660.1" x2="253.9" y2="638.6" stroke="#f2e81e" stroke-width="4.8"/>
<line x1="253.9" y1="638.1" x2="238.4" y2="634.4" stroke="#f2e81e" stroke-width="4.6" stroke-linecap="round"/>
<line x1="239.9" y1="634.6" x2="235.9" y2="633.4" stroke="#bdbdbd" stroke-width="3.4"/>
<line x1="253.9" y1="638.1" x2="269.4" y2="634.4" stroke="#f2e81e" stroke-width="4.6" stroke-linecap="round"/>
<line x1="267.9" y1="634.6" x2="271.9" y2="633.4" stroke="#bdbdbd" stroke-width="3.4"/>
<circle cx="253.9" cy="638.6" r="6.5" fill="url(#gC)"/>
<circle cx="233.7" cy="631.4" r="3.15" fill="#f3f3f3" stroke="#858585" stroke-width="1.4"/>
<circle cx="236.3" cy="634.6" r="3.15" fill="#f3f3f3" stroke="#858585" stroke-width="1.4"/>
<circle cx="274.1" cy="631.4" r="3.15" fill="#f3f3f3" stroke="#858585" stroke-width="1.4"/>
<circle cx="271.5" cy="634.6" r="3.15" fill="#f3f3f3" stroke="#858585" stroke-width="1.4"/>
<line x1="253.9" y1="627.6" x2="253.9" y2="613.0" stroke="#1684e0" stroke-width="3.4"/>
<line x1="253.9" y1="613.0" x2="253.9" y2="606.2" stroke="#c0c0c0" stroke-width="3.4"/>
<circle cx="253.9" cy="606.2" r="3.1" fill="#f3f3f3" stroke="#858585" stroke-width="1.4"/>
<circle cx="253.9" cy="627.4" r="8.2" fill="url(#gN)"/>
<circle cx="225.4" cy="690.9" r="6.9" fill="url(#gO)"/>
<circle cx="282.4" cy="690.9" r="6.9" fill="url(#gO)"/>
<circle cx="253.9" cy="681.6" r="10.0" fill="url(#gS)"/>
<path d="M239.3 674.0 V646.2 M234.0 653.6 L239.3 644.8 L244.6 653.6" fill="none" stroke="#0f1f5c" stroke-width="3" stroke-linejoin="miter"/>
<circle cx="253.9" cy="808.2" r="6.7" fill="#b80808"/>
<line x1="253.9" y1="801.6" x2="239.7" y2="806.2" stroke="#26cf88" stroke-width="4.8"/>
<line x1="239.7" y1="806.2" x2="225.4" y2="810.9" stroke="#e01a1a" stroke-width="4.8"/>
<line x1="253.9" y1="801.6" x2="268.1" y2="806.2" stroke="#26cf88" stroke-width="4.8"/>
<line x1="268.1" y1="806.2" x2="282.4" y2="810.9" stroke="#e01a1a" stroke-width="4.8"/>
<line x1="253.9" y1="801.6" x2="253.9" y2="780.1" stroke="#26cf88" stroke-width="4.8"/>
<line x1="253.9" y1="780.1" x2="253.9" y2="758.6" stroke="#f2e81e" stroke-width="4.8"/>
<line x1="253.9" y1="758.1" x2="238.4" y2="754.4" stroke="#f2e81e" stroke-width="4.6" stroke-linecap="round"/>
<line x1="239.9" y1="754.6" x2="235.9" y2="753.4" stroke="#bdbdbd" stroke-width="3.4"/>
<line x1="253.9" y1="758.1" x2="269.4" y2="754.4" stroke="#f2e81e" stroke-width="4.6" stroke-linecap="round"/>
<line x1="267.9" y1="754.6" x2="271.9" y2="753.4" stroke="#bdbdbd" stroke-width="3.4"/>
<circle cx="253.9" cy="758.6" r="6.5" fill="url(#gC)"/>
<circle cx="233.7" cy="751.4" r="3.15" fill="#f3f3f3" stroke="#858585" stroke-width="1.4"/>
<circle cx="236.3" cy="754.6" r="3.15" fill="#f3f3f3" stroke="#858585" stroke-width="1.4"/>
<circle cx="274.1" cy="751.4" r="3.15" fill="#f3f3f3" stroke="#858585" stroke-width="1.4"/>
<circle cx="271.5" cy="754.6" r="3.15" fill="#f3f3f3" stroke="#858585" stroke-width="1.4"/>
<line x1="253.9" y1="747.6" x2="253.9" y2="733.0" stroke="#1684e0" stroke-width="3.4"/>
<line x1="253.9" y1="733.0" x2="253.9" y2="726.2" stroke="#c0c0c0" stroke-width="3.4"/>
<circle cx="253.9" cy="726.2" r="3.1" fill="#f3f3f3" stroke="#858585" stroke-width="1.4"/>
<circle cx="253.9" cy="747.4" r="8.2" fill="url(#gN)"/>
<circle cx="225.4" cy="810.9" r="6.9" fill="url(#gO)"/>
<circle cx="282.4" cy="810.9" r="6.9" fill="url(#gO)"/>
<circle cx="253.9" cy="801.6" r="10.0" fill="url(#gS)"/>
<path d="M239.3 794.0 V766.2 M234.0 773.6 L239.3 764.8 L244.6 773.6" fill="none" stroke="#0f1f5c" stroke-width="3" stroke-linejoin="miter"/>
<circle cx="339.4" cy="628.6" r="6.7" fill="#b80808"/>
<line x1="339.4" y1="622.0" x2="325.1" y2="626.6" stroke="#26cf88" stroke-width="4.8"/>
<line x1="325.1" y1="626.6" x2="310.9" y2="631.3" stroke="#e01a1a" stroke-width="4.8"/>
<line x1="339.4" y1="622.0" x2="353.6" y2="626.6" stroke="#26cf88" stroke-width="4.8"/>
<line x1="353.6" y1="626.6" x2="367.9" y2="631.3" stroke="#e01a1a" stroke-width="4.8"/>
<line x1="339.4" y1="622.0" x2="339.4" y2="600.5" stroke="#26cf88" stroke-width="4.8"/>
<line x1="339.4" y1="600.5" x2="339.4" y2="579.0" stroke="#f2e81e" stroke-width="4.8"/>
<line x1="339.4" y1="578.5" x2="323.9" y2="574.8" stroke="#f2e81e" stroke-width="4.6" stroke-linecap="round"/>
<line x1="325.4" y1="575.0" x2="321.4" y2="573.8" stroke="#bdbdbd" stroke-width="3.4"/>
<line x1="339.4" y1="578.5" x2="354.9" y2="574.8" stroke="#f2e81e" stroke-width="4.6" stroke-linecap="round"/>
<line x1="353.4" y1="575.0" x2="357.4" y2="573.8" stroke="#bdbdbd" stroke-width="3.4"/>
<circle cx="339.4" cy="579.0" r="6.5" fill="url(#gC)"/>
<circle cx="319.2" cy="571.8" r="3.15" fill="#f3f3f3" stroke="#858585" stroke-width="1.4"/>
<circle cx="321.8" cy="575.0" r="3.15" fill="#f3f3f3" stroke="#858585" stroke-width="1.4"/>
<circle cx="359.6" cy="571.8" r="3.15" fill="#f3f3f3" stroke="#858585" stroke-width="1.4"/>
<circle cx="357.0" cy="575.0" r="3.15" fill="#f3f3f3" stroke="#858585" stroke-width="1.4"/>
<line x1="339.4" y1="568.0" x2="339.4" y2="553.4" stroke="#1684e0" stroke-width="3.4"/>
<line x1="339.4" y1="553.4" x2="339.4" y2="546.6" stroke="#c0c0c0" stroke-width="3.4"/>
<circle cx="339.4" cy="546.6" r="3.1" fill="#f3f3f3" stroke="#858585" stroke-width="1.4"/>
<circle cx="339.4" cy="567.8" r="8.2" fill="url(#gN)"/>
<circle cx="310.9" cy="631.3" r="6.9" fill="url(#gO)"/>
<circle cx="367.9" cy="631.3" r="6.9" fill="url(#gO)"/>
<circle cx="339.4" cy="622.0" r="10.0" fill="url(#gS)"/>
<path d="M324.8 611.4 V582.8 M319.5 590.2 L324.8 581.4 L330.1 590.2" fill="none" stroke="#0f1f5c" stroke-width="3" stroke-linejoin="miter"/>
<circle cx="339.4" cy="748.4" r="6.7" fill="#b80808"/>
<line x1="339.4" y1="741.8" x2="325.1" y2="746.4" stroke="#26cf88" stroke-width="4.8"/>
<line x1="325.1" y1="746.4" x2="310.9" y2="751.1" stroke="#e01a1a" stroke-width="4.8"/>
<line x1="339.4" y1="741.8" x2="353.6" y2="746.4" stroke="#26cf88" stroke-width="4.8"/>
<line x1="353.6" y1="746.4" x2="367.9" y2="751.1" stroke="#e01a1a" stroke-width="4.8"/>
<line x1="339.4" y1="741.8" x2="339.4" y2="720.3" stroke="#26cf88" stroke-width="4.8"/>
<line x1="339.4" y1="720.3" x2="339.4" y2="698.8" stroke="#f2e81e" stroke-width="4.8"/>
<line x1="339.4" y1="698.3" x2="323.9" y2="694.6" stroke="#f2e81e" stroke-width="4.6" stroke-linecap="round"/>
<line x1="325.4" y1="694.8" x2="321.4" y2="693.6" stroke="#bdbdbd" stroke-width="3.4"/>
<line x1="339.4" y1="698.3" x2="354.9" y2="694.6" stroke="#f2e81e" stroke-width="4.6" stroke-linecap="round"/>
<line x1="353.4" y1="694.8" x2="357.4" y2="693.6" stroke="#bdbdbd" stroke-width="3.4"/>
<circle cx="339.4" cy="698.8" r="6.5" fill="url(#gC)"/>
<circle cx="319.2" cy="691.6" r="3.15" fill="#f3f3f3" stroke="#858585" stroke-width="1.4"/>
<circle cx="321.8" cy="694.8" r="3.15" fill="#f3f3f3" stroke="#858585" stroke-width="1.4"/>
<circle cx="359.6" cy="691.6" r="3.15" fill="#f3f3f3" stroke="#858585" stroke-width="1.4"/>
<circle cx="357.0" cy="694.8" r="3.15" fill="#f3f3f3" stroke="#858585" stroke-width="1.4"/>
<line x1="339.4" y1="687.8" x2="339.4" y2="673.2" stroke="#1684e0" stroke-width="3.4"/>
<line x1="339.4" y1="673.2" x2="339.4" y2="666.4" stroke="#c0c0c0" stroke-width="3.4"/>
<circle cx="339.4" cy="666.4" r="3.1" fill="#f3f3f3" stroke="#858585" stroke-width="1.4"/>
<circle cx="339.4" cy="687.6" r="8.2" fill="url(#gN)"/>
<circle cx="310.9" cy="751.1" r="6.9" fill="url(#gO)"/>
<circle cx="367.9" cy="751.1" r="6.9" fill="url(#gO)"/>
<circle cx="339.4" cy="741.8" r="10.0" fill="url(#gS)"/>
<path d="M324.8 734.2 V706.4 M319.5 713.8 L324.8 705.0 L330.1 713.8" fill="none" stroke="#0f1f5c" stroke-width="3" stroke-linejoin="miter"/>
<circle cx="425.0" cy="568.2" r="6.7" fill="#b80808"/>
<line x1="425.0" y1="561.6" x2="410.8" y2="566.2" stroke="#26cf88" stroke-width="4.8"/>
<line x1="410.8" y1="566.2" x2="396.5" y2="570.9" stroke="#e01a1a" stroke-width="4.8"/>
<line x1="425.0" y1="561.6" x2="439.2" y2="566.2" stroke="#26cf88" stroke-width="4.8"/>
<line x1="439.2" y1="566.2" x2="453.5" y2="570.9" stroke="#e01a1a" stroke-width="4.8"/>
<line x1="425.0" y1="561.6" x2="425.0" y2="540.1" stroke="#26cf88" stroke-width="4.8"/>
<line x1="425.0" y1="540.1" x2="425.0" y2="518.6" stroke="#f2e81e" stroke-width="4.8"/>
<line x1="425.0" y1="518.1" x2="409.5" y2="514.4" stroke="#f2e81e" stroke-width="4.6" stroke-linecap="round"/>
<line x1="411.0" y1="514.6" x2="407.0" y2="513.4" stroke="#bdbdbd" stroke-width="3.4"/>
<line x1="425.0" y1="518.1" x2="440.5" y2="514.4" stroke="#f2e81e" stroke-width="4.6" stroke-linecap="round"/>
<line x1="439.0" y1="514.6" x2="443.0" y2="513.4" stroke="#bdbdbd" stroke-width="3.4"/>
<circle cx="425.0" cy="518.6" r="6.5" fill="url(#gC)"/>
<circle cx="404.8" cy="511.4" r="3.15" fill="#f3f3f3" stroke="#858585" stroke-width="1.4"/>
<circle cx="407.4" cy="514.6" r="3.15" fill="#f3f3f3" stroke="#858585" stroke-width="1.4"/>
<circle cx="445.2" cy="511.4" r="3.15" fill="#f3f3f3" stroke="#858585" stroke-width="1.4"/>
<circle cx="442.6" cy="514.6" r="3.15" fill="#f3f3f3" stroke="#858585" stroke-width="1.4"/>
<line x1="425.0" y1="507.6" x2="425.0" y2="493.0" stroke="#1684e0" stroke-width="3.4"/>
<line x1="425.0" y1="493.0" x2="425.0" y2="486.2" stroke="#c0c0c0" stroke-width="3.4"/>
<circle cx="425.0" cy="486.20000000000005" r="3.1" fill="#f3f3f3" stroke="#858585" stroke-width="1.4"/>
<circle cx="425.0" cy="507.4" r="8.2" fill="url(#gN)"/>
<circle cx="396.5" cy="570.9" r="6.9" fill="url(#gO)"/>
<circle cx="453.5" cy="570.9" r="6.9" fill="url(#gO)"/>
<circle cx="425.0" cy="561.6" r="10.0" fill="url(#gS)"/>
<path d="M410.4 551.0 V522.4 M405.1 529.8 L410.4 521.0 L415.7 529.8" fill="none" stroke="#0f1f5c" stroke-width="3" stroke-linejoin="miter"/>
<circle cx="425.0" cy="688.2" r="6.7" fill="#b80808"/>
<line x1="425.0" y1="681.6" x2="410.8" y2="686.2" stroke="#26cf88" stroke-width="4.8"/>
<line x1="410.8" y1="686.2" x2="396.5" y2="690.9" stroke="#e01a1a" stroke-width="4.8"/>
<line x1="425.0" y1="681.6" x2="439.2" y2="686.2" stroke="#26cf88" stroke-width="4.8"/>
<line x1="439.2" y1="686.2" x2="453.5" y2="690.9" stroke="#e01a1a" stroke-width="4.8"/>
<line x1="425.0" y1="681.6" x2="425.0" y2="660.1" stroke="#26cf88" stroke-width="4.8"/>
<line x1="425.0" y1="660.1" x2="425.0" y2="638.6" stroke="#f2e81e" stroke-width="4.8"/>
<line x1="425.0" y1="638.1" x2="409.5" y2="634.4" stroke="#f2e81e" stroke-width="4.6" stroke-linecap="round"/>
<line x1="411.0" y1="634.6" x2="407.0" y2="633.4" stroke="#bdbdbd" stroke-width="3.4"/>
<line x1="425.0" y1="638.1" x2="440.5" y2="634.4" stroke="#f2e81e" stroke-width="4.6" stroke-linecap="round"/>
<line x1="439.0" y1="634.6" x2="443.0" y2="633.4" stroke="#bdbdbd" stroke-width="3.4"/>
<circle cx="425.0" cy="638.6" r="6.5" fill="url(#gC)"/>
<circle cx="404.8" cy="631.4" r="3.15" fill="#f3f3f3" stroke="#858585" stroke-width="1.4"/>
<circle cx="407.4" cy="634.6" r="3.15" fill="#f3f3f3" stroke="#858585" stroke-width="1.4"/>
<circle cx="445.2" cy="631.4" r="3.15" fill="#f3f3f3" stroke="#858585" stroke-width="1.4"/>
<circle cx="442.6" cy="634.6" r="3.15" fill="#f3f3f3" stroke="#858585" stroke-width="1.4"/>
<line x1="425.0" y1="627.6" x2="425.0" y2="613.0" stroke="#1684e0" stroke-width="3.4"/>
<line x1="425.0" y1="613.0" x2="425.0" y2="606.2" stroke="#c0c0c0" stroke-width="3.4"/>
<circle cx="425.0" cy="606.2" r="3.1" fill="#f3f3f3" stroke="#858585" stroke-width="1.4"/>
<circle cx="425.0" cy="627.4" r="8.2" fill="url(#gN)"/>
<circle cx="396.5" cy="690.9" r="6.9" fill="url(#gO)"/>
<circle cx="453.5" cy="690.9" r="6.9" fill="url(#gO)"/>
<circle cx="425.0" cy="681.6" r="10.0" fill="url(#gS)"/>
<path d="M410.4 674.0 V646.2 M405.1 653.6 L410.4 644.8 L415.7 653.6" fill="none" stroke="#0f1f5c" stroke-width="3" stroke-linejoin="miter"/>
<circle cx="425.0" cy="808.2" r="6.7" fill="#b80808"/>
<line x1="425.0" y1="801.6" x2="410.8" y2="806.2" stroke="#26cf88" stroke-width="4.8"/>
<line x1="410.8" y1="806.2" x2="396.5" y2="810.9" stroke="#e01a1a" stroke-width="4.8"/>
<line x1="425.0" y1="801.6" x2="439.2" y2="806.2" stroke="#26cf88" stroke-width="4.8"/>
<line x1="439.2" y1="806.2" x2="453.5" y2="810.9" stroke="#e01a1a" stroke-width="4.8"/>
<line x1="425.0" y1="801.6" x2="425.0" y2="780.1" stroke="#26cf88" stroke-width="4.8"/>
<line x1="425.0" y1="780.1" x2="425.0" y2="758.6" stroke="#f2e81e" stroke-width="4.8"/>
<line x1="425.0" y1="758.1" x2="409.5" y2="754.4" stroke="#f2e81e" stroke-width="4.6" stroke-linecap="round"/>
<line x1="411.0" y1="754.6" x2="407.0" y2="753.4" stroke="#bdbdbd" stroke-width="3.4"/>
<line x1="425.0" y1="758.1" x2="440.5" y2="754.4" stroke="#f2e81e" stroke-width="4.6" stroke-linecap="round"/>
<line x1="439.0" y1="754.6" x2="443.0" y2="753.4" stroke="#bdbdbd" stroke-width="3.4"/>
<circle cx="425.0" cy="758.6" r="6.5" fill="url(#gC)"/>
<circle cx="404.8" cy="751.4" r="3.15" fill="#f3f3f3" stroke="#858585" stroke-width="1.4"/>
<circle cx="407.4" cy="754.6" r="3.15" fill="#f3f3f3" stroke="#858585" stroke-width="1.4"/>
<circle cx="445.2" cy="751.4" r="3.15" fill="#f3f3f3" stroke="#858585" stroke-width="1.4"/>
<circle cx="442.6" cy="754.6" r="3.15" fill="#f3f3f3" stroke="#858585" stroke-width="1.4"/>
<line x1="425.0" y1="747.6" x2="425.0" y2="733.0" stroke="#1684e0" stroke-width="3.4"/>
<line x1="425.0" y1="733.0" x2="425.0" y2="726.2" stroke="#c0c0c0" stroke-width="3.4"/>
<circle cx="425.0" cy="726.2" r="3.1" fill="#f3f3f3" stroke="#858585" stroke-width="1.4"/>
<circle cx="425.0" cy="747.4" r="8.2" fill="url(#gN)"/>
<circle cx="396.5" cy="810.9" r="6.9" fill="url(#gO)"/>
<circle cx="453.5" cy="810.9" r="6.9" fill="url(#gO)"/>
<circle cx="425.0" cy="801.6" r="10.0" fill="url(#gS)"/>
<path d="M410.4 794.0 V766.2 M405.1 773.6 L410.4 764.8 L415.7 773.6" fill="none" stroke="#0f1f5c" stroke-width="3" stroke-linejoin="miter"/>
<path d="M477.2 521 V498 H508" fill="none" stroke="#222" stroke-width="0.9"/>
<path d="M517 498 L506.5 494.3 V501.7 Z M477.2 528 L473.5 517.5 H480.9 Z" fill="#000"/>
<text x="533.4" y="502.2" font-size="21.5" fill="#000" text-anchor="middle" >b</text>
<text x="476.8" y="556.8" font-size="21.5" fill="#000" text-anchor="middle" >a</text>
<text x="356.6" y="611.9" font-size="19.83" fill="#000" textLength="57.3" lengthAdjust="spacingAndGlyphs" >3.62 Å</text>
<path d="M351.5 618.5 H419.5 M358.5 613.8 L351 618.5 L358.5 623.2 M412.5 613.8 L420 618.5 L412.5 623.2" fill="none" stroke="#000" stroke-width="1.5"/>
<text x="353.0" y="727.2" font-size="19.69" fill="#000" textLength="56.9" lengthAdjust="spacingAndGlyphs" >2.55 Å</text>
<path d="M349.5 698.5 V740 M345 705.5 L349.5 698 L354 705.5 M345 733 L349.5 740.5 L354 733" fill="none" stroke="#000" stroke-width="1.5"/>
<circle cx="490.7" cy="725.2" r="9.8" fill="url(#gS)"/>
<text x="506.7" y="732.7" font-size="20.3" fill="#000" >S</text>
<circle cx="490.7" cy="747.4" r="9.8" fill="url(#gC)"/>
<text x="506.7" y="754.7" font-size="20.3" fill="#000" >C</text>
<circle cx="490.7" cy="768.8" r="9.8" fill="url(#gN)"/>
<text x="506.7" y="775.6" font-size="20.3" fill="#000" >N</text>
<circle cx="490.7" cy="790.5" r="9.8" fill="url(#gH)"/>
<text x="506.7" y="798.4" font-size="20.3" fill="#000" >H</text>
<circle cx="490.7" cy="813.8" r="9.8" fill="url(#gO)"/>
<text x="506.7" y="821.6" font-size="20.3" fill="#000" >O</text>
<text x="569.8" y="498.3" font-size="35" fill="#000" font-weight="bold" >c</text>
<line x1="598" y1="553" x2="598" y2="765.7" stroke="#808080" stroke-width="1.15"/>
<line x1="720.2" y1="553" x2="720.2" y2="765.7" stroke="#808080" stroke-width="1.15"/>
<line x1="789" y1="553" x2="789" y2="765.7" stroke="#808080" stroke-width="1.15"/>
<line x1="910" y1="553" x2="910" y2="765.7" stroke="#808080" stroke-width="1.15"/>
<line x1="598" y1="553" x2="910" y2="553" stroke="#555" stroke-width="1.2"/>
<line x1="598" y1="765.7" x2="910" y2="765.7" stroke="#555" stroke-width="1.2"/>
<line x1="598.0" y1="553.0" x2="604.8" y2="553.0" stroke="#c0c0c0" stroke-width="3.5"/>
<line x1="604.8" y1="553.0" x2="615.0" y2="553.0" stroke="#1684e0" stroke-width="3.5"/>
<line x1="615.0" y1="553.0" x2="636.4" y2="553.0" stroke="#1684e0" stroke-width="4.6"/>
<line x1="636.4" y1="553.0" x2="657.8" y2="553.0" stroke="#f2e81e" stroke-width="4.6"/>
<line x1="657.8" y1="553.0" x2="671.4" y2="553.0" stroke="#f2e81e" stroke-width="4.6"/>
<line x1="671.4" y1="553.0" x2="688.1" y2="553.0" stroke="#26cf88" stroke-width="4.6"/>
<line x1="688.1" y1="553.0" x2="707.5" y2="553.0" stroke="#26cf88" stroke-width="4.6"/>
<line x1="707.5" y1="553.0" x2="726.8" y2="553.0" stroke="#e01a1a" stroke-width="4.6"/>
<line x1="615.0" y1="553.0" x2="612.4" y2="541.9" stroke="#1684e0" stroke-width="3.4"/>
<line x1="612.4" y1="541.9" x2="609.8" y2="530.7" stroke="#c0c0c0" stroke-width="3.4"/>
<line x1="657.8" y1="553.0" x2="659.7" y2="540.6" stroke="#f2e81e" stroke-width="3.4"/>
<line x1="659.7" y1="540.6" x2="661.6" y2="528.3" stroke="#c0c0c0" stroke-width="3.4"/>
<line x1="688.1" y1="553.0" x2="684.0" y2="535.2" stroke="#26cf88" stroke-width="4.6"/>
<line x1="684.0" y1="535.2" x2="679.8" y2="517.5" stroke="#e01a1a" stroke-width="4.6"/>
<line x1="615.0" y1="553.0" x2="612.4" y2="564.1" stroke="#1684e0" stroke-width="3.4"/>
<line x1="612.4" y1="564.1" x2="609.8" y2="575.3" stroke="#c0c0c0" stroke-width="3.4"/>
<line x1="657.8" y1="553.0" x2="659.7" y2="565.4" stroke="#f2e81e" stroke-width="3.4"/>
<line x1="659.7" y1="565.4" x2="661.6" y2="577.7" stroke="#c0c0c0" stroke-width="3.4"/>
<line x1="688.1" y1="553.0" x2="684.0" y2="570.8" stroke="#26cf88" stroke-width="4.6"/>
<line x1="684.0" y1="570.8" x2="679.8" y2="588.5" stroke="#e01a1a" stroke-width="4.6"/>
<circle cx="609.8" cy="530.7" r="4.2" fill="url(#gH)"/>
<circle cx="661.6" cy="528.3" r="4.2" fill="url(#gH)"/>
<circle cx="679.8" cy="517.5" r="8.5" fill="url(#gO)"/>
<circle cx="609.8" cy="575.3" r="4.2" fill="url(#gH)"/>
<circle cx="661.6" cy="577.7" r="4.2" fill="url(#gH)"/>
<circle cx="679.8" cy="588.5" r="8.5" fill="url(#gO)"/>
<circle cx="598.0" cy="553.0" r="4.4" fill="url(#gH)"/>
<circle cx="615.0" cy="553.0" r="7.9" fill="url(#gN)"/>
<circle cx="657.8" cy="553.0" r="8.2" fill="url(#gC)"/>
<circle cx="688.1" cy="553.0" r="11.9" fill="url(#gS)"/>
<circle cx="726.8" cy="553.0" r="8.5" fill="url(#gO)"/>
<line x1="789.0" y1="553.0" x2="795.8" y2="553.0" stroke="#c0c0c0" stroke-width="3.5"/>
<line x1="795.8" y1="553.0" x2="806.0" y2="553.0" stroke="#1684e0" stroke-width="3.5"/>
<line x1="806.0" y1="553.0" x2="827.4" y2="553.0" stroke="#1684e0" stroke-width="4.6"/>
<line x1="827.4" y1="553.0" x2="848.8" y2="553.0" stroke="#f2e81e" stroke-width="4.6"/>
<line x1="848.8" y1="553.0" x2="862.4" y2="553.0" stroke="#f2e81e" stroke-width="4.6"/>
<line x1="862.4" y1="553.0" x2="879.1" y2="553.0" stroke="#26cf88" stroke-width="4.6"/>
<line x1="879.1" y1="553.0" x2="898.5" y2="553.0" stroke="#26cf88" stroke-width="4.6"/>
<line x1="898.5" y1="553.0" x2="917.8" y2="553.0" stroke="#e01a1a" stroke-width="4.6"/>
<line x1="806.0" y1="553.0" x2="803.4" y2="541.9" stroke="#1684e0" stroke-width="3.4"/>
<line x1="803.4" y1="541.9" x2="800.8" y2="530.7" stroke="#c0c0c0" stroke-width="3.4"/>
<line x1="848.8" y1="553.0" x2="850.7" y2="540.6" stroke="#f2e81e" stroke-width="3.4"/>
<line x1="850.7" y1="540.6" x2="852.6" y2="528.3" stroke="#c0c0c0" stroke-width="3.4"/>
<line x1="879.1" y1="553.0" x2="875.0" y2="535.2" stroke="#26cf88" stroke-width="4.6"/>
<line x1="875.0" y1="535.2" x2="870.8" y2="517.5" stroke="#e01a1a" stroke-width="4.6"/>
<line x1="806.0" y1="553.0" x2="803.4" y2="564.1" stroke="#1684e0" stroke-width="3.4"/>
<line x1="803.4" y1="564.1" x2="800.8" y2="575.3" stroke="#c0c0c0" stroke-width="3.4"/>
<line x1="848.8" y1="553.0" x2="850.7" y2="565.4" stroke="#f2e81e" stroke-width="3.4"/>
<line x1="850.7" y1="565.4" x2="852.6" y2="577.7" stroke="#c0c0c0" stroke-width="3.4"/>
<line x1="879.1" y1="553.0" x2="875.0" y2="570.8" stroke="#26cf88" stroke-width="4.6"/>
<line x1="875.0" y1="570.8" x2="870.8" y2="588.5" stroke="#e01a1a" stroke-width="4.6"/>
<circle cx="800.8" cy="530.7" r="4.2" fill="url(#gH)"/>
<circle cx="852.6" cy="528.3" r="4.2" fill="url(#gH)"/>
<circle cx="870.8" cy="517.5" r="8.5" fill="url(#gO)"/>
<circle cx="800.8" cy="575.3" r="4.2" fill="url(#gH)"/>
<circle cx="852.6" cy="577.7" r="4.2" fill="url(#gH)"/>
<circle cx="870.8" cy="588.5" r="8.5" fill="url(#gO)"/>
<circle cx="789.0" cy="553.0" r="4.4" fill="url(#gH)"/>
<circle cx="806.0" cy="553.0" r="7.9" fill="url(#gN)"/>
<circle cx="848.8" cy="553.0" r="8.2" fill="url(#gC)"/>
<circle cx="879.1" cy="553.0" r="11.9" fill="url(#gS)"/>
<circle cx="917.8" cy="553.0" r="8.5" fill="url(#gO)"/>
<line x1="694.6" y1="659.2" x2="701.0" y2="659.2" stroke="#c0c0c0" stroke-width="3.5"/>
<line x1="701.0" y1="659.2" x2="710.7" y2="659.2" stroke="#1684e0" stroke-width="3.5"/>
<line x1="710.7" y1="659.2" x2="731.7" y2="659.2" stroke="#1684e0" stroke-width="4.6"/>
<line x1="731.7" y1="659.2" x2="752.7" y2="659.2" stroke="#f2e81e" stroke-width="4.6"/>
<line x1="752.7" y1="659.2" x2="766.8" y2="659.2" stroke="#f2e81e" stroke-width="4.6"/>
<line x1="766.8" y1="659.2" x2="784.0" y2="659.2" stroke="#26cf88" stroke-width="4.6"/>
<line x1="784.0" y1="659.2" x2="803.5" y2="659.2" stroke="#26cf88" stroke-width="4.6"/>
<line x1="803.5" y1="659.2" x2="823.0" y2="659.2" stroke="#e01a1a" stroke-width="4.6"/>
<line x1="710.7" y1="659.2" x2="708.2" y2="648.1" stroke="#1684e0" stroke-width="3.4"/>
<line x1="708.2" y1="648.1" x2="705.6" y2="636.9" stroke="#c0c0c0" stroke-width="3.4"/>
<line x1="752.7" y1="659.2" x2="754.8" y2="646.9" stroke="#f2e81e" stroke-width="3.4"/>
<line x1="754.8" y1="646.9" x2="756.9" y2="634.5" stroke="#c0c0c0" stroke-width="3.4"/>
<line x1="784.0" y1="659.2" x2="779.5" y2="641.5" stroke="#26cf88" stroke-width="4.6"/>
<line x1="779.5" y1="641.5" x2="775.1" y2="623.7" stroke="#e01a1a" stroke-width="4.6"/>
<line x1="710.7" y1="659.2" x2="708.2" y2="670.4" stroke="#1684e0" stroke-width="3.4"/>
<line x1="708.2" y1="670.4" x2="705.6" y2="681.5" stroke="#c0c0c0" stroke-width="3.4"/>
<line x1="752.7" y1="659.2" x2="754.8" y2="671.6" stroke="#f2e81e" stroke-width="3.4"/>
<line x1="754.8" y1="671.6" x2="756.9" y2="683.9" stroke="#c0c0c0" stroke-width="3.4"/>
<line x1="784.0" y1="659.2" x2="779.5" y2="677.0" stroke="#26cf88" stroke-width="4.6"/>
<line x1="779.5" y1="677.0" x2="775.1" y2="694.7" stroke="#e01a1a" stroke-width="4.6"/>
<circle cx="705.6" cy="636.9" r="4.2" fill="url(#gH)"/>
<circle cx="756.9" cy="634.5" r="4.2" fill="url(#gH)"/>
<circle cx="775.1" cy="623.7" r="8.5" fill="url(#gO)"/>
<circle cx="705.6" cy="681.5" r="4.2" fill="url(#gH)"/>
<circle cx="756.9" cy="683.9" r="4.2" fill="url(#gH)"/>
<circle cx="775.1" cy="694.7" r="8.5" fill="url(#gO)"/>
<circle cx="694.6" cy="659.2" r="4.4" fill="url(#gH)"/>
<circle cx="710.7" cy="659.2" r="7.9" fill="url(#gN)"/>
<circle cx="752.7" cy="659.2" r="8.2" fill="url(#gC)"/>
<circle cx="784.0" cy="659.2" r="11.9" fill="url(#gS)"/>
<circle cx="823.0" cy="659.2" r="8.5" fill="url(#gO)"/>
<line x1="598.0" y1="765.7" x2="604.8" y2="765.7" stroke="#c0c0c0" stroke-width="3.5"/>
<line x1="604.8" y1="765.7" x2="615.0" y2="765.7" stroke="#1684e0" stroke-width="3.5"/>
<line x1="615.0" y1="765.7" x2="636.4" y2="765.7" stroke="#1684e0" stroke-width="4.6"/>
<line x1="636.4" y1="765.7" x2="657.8" y2="765.7" stroke="#f2e81e" stroke-width="4.6"/>
<line x1="657.8" y1="765.7" x2="671.4" y2="765.7" stroke="#f2e81e" stroke-width="4.6"/>
<line x1="671.4" y1="765.7" x2="688.1" y2="765.7" stroke="#26cf88" stroke-width="4.6"/>
<line x1="688.1" y1="765.7" x2="707.5" y2="765.7" stroke="#26cf88" stroke-width="4.6"/>
<line x1="707.5" y1="765.7" x2="726.8" y2="765.7" stroke="#e01a1a" stroke-width="4.6"/>
<line x1="615.0" y1="765.7" x2="612.4" y2="754.6" stroke="#1684e0" stroke-width="3.4"/>
<line x1="612.4" y1="754.6" x2="609.8" y2="743.4" stroke="#c0c0c0" stroke-width="3.4"/>
<line x1="657.8" y1="765.7" x2="659.7" y2="753.4" stroke="#f2e81e" stroke-width="3.4"/>
<line x1="659.7" y1="753.4" x2="661.6" y2="741.0" stroke="#c0c0c0" stroke-width="3.4"/>
<line x1="688.1" y1="765.7" x2="684.0" y2="748.0" stroke="#26cf88" stroke-width="4.6"/>
<line x1="684.0" y1="748.0" x2="679.8" y2="730.2" stroke="#e01a1a" stroke-width="4.6"/>
<line x1="615.0" y1="765.7" x2="612.4" y2="776.9" stroke="#1684e0" stroke-width="3.4"/>
<line x1="612.4" y1="776.9" x2="609.8" y2="788.0" stroke="#c0c0c0" stroke-width="3.4"/>
<line x1="657.8" y1="765.7" x2="659.7" y2="778.1" stroke="#f2e81e" stroke-width="3.4"/>
<line x1="659.7" y1="778.1" x2="661.6" y2="790.4" stroke="#c0c0c0" stroke-width="3.4"/>
<line x1="688.1" y1="765.7" x2="684.0" y2="783.5" stroke="#26cf88" stroke-width="4.6"/>
<line x1="684.0" y1="783.5" x2="679.8" y2="801.2" stroke="#e01a1a" stroke-width="4.6"/>
<circle cx="609.8" cy="743.4" r="4.2" fill="url(#gH)"/>
<circle cx="661.6" cy="741.0" r="4.2" fill="url(#gH)"/>
<circle cx="679.8" cy="730.2" r="8.5" fill="url(#gO)"/>
<circle cx="609.8" cy="788.0" r="4.2" fill="url(#gH)"/>
<circle cx="661.6" cy="790.4" r="4.2" fill="url(#gH)"/>
<circle cx="679.8" cy="801.2" r="8.5" fill="url(#gO)"/>
<circle cx="598.0" cy="765.7" r="4.4" fill="url(#gH)"/>
<circle cx="615.0" cy="765.7" r="7.9" fill="url(#gN)"/>
<circle cx="657.8" cy="765.7" r="8.2" fill="url(#gC)"/>
<circle cx="688.1" cy="765.7" r="11.9" fill="url(#gS)"/>
<circle cx="726.8" cy="765.7" r="8.5" fill="url(#gO)"/>
<line x1="789.0" y1="765.7" x2="795.8" y2="765.7" stroke="#c0c0c0" stroke-width="3.5"/>
<line x1="795.8" y1="765.7" x2="806.0" y2="765.7" stroke="#1684e0" stroke-width="3.5"/>
<line x1="806.0" y1="765.7" x2="827.4" y2="765.7" stroke="#1684e0" stroke-width="4.6"/>
<line x1="827.4" y1="765.7" x2="848.8" y2="765.7" stroke="#f2e81e" stroke-width="4.6"/>
<line x1="848.8" y1="765.7" x2="862.4" y2="765.7" stroke="#f2e81e" stroke-width="4.6"/>
<line x1="862.4" y1="765.7" x2="879.1" y2="765.7" stroke="#26cf88" stroke-width="4.6"/>
<line x1="879.1" y1="765.7" x2="898.5" y2="765.7" stroke="#26cf88" stroke-width="4.6"/>
<line x1="898.5" y1="765.7" x2="917.8" y2="765.7" stroke="#e01a1a" stroke-width="4.6"/>
<line x1="806.0" y1="765.7" x2="803.4" y2="754.6" stroke="#1684e0" stroke-width="3.4"/>
<line x1="803.4" y1="754.6" x2="800.8" y2="743.4" stroke="#c0c0c0" stroke-width="3.4"/>
<line x1="848.8" y1="765.7" x2="850.7" y2="753.4" stroke="#f2e81e" stroke-width="3.4"/>
<line x1="850.7" y1="753.4" x2="852.6" y2="741.0" stroke="#c0c0c0" stroke-width="3.4"/>
<line x1="879.1" y1="765.7" x2="875.0" y2="748.0" stroke="#26cf88" stroke-width="4.6"/>
<line x1="875.0" y1="748.0" x2="870.8" y2="730.2" stroke="#e01a1a" stroke-width="4.6"/>
<line x1="806.0" y1="765.7" x2="803.4" y2="776.9" stroke="#1684e0" stroke-width="3.4"/>
<line x1="803.4" y1="776.9" x2="800.8" y2="788.0" stroke="#c0c0c0" stroke-width="3.4"/>
<line x1="848.8" y1="765.7" x2="850.7" y2="778.1" stroke="#f2e81e" stroke-width="3.4"/>
<line x1="850.7" y1="778.1" x2="852.6" y2="790.4" stroke="#c0c0c0" stroke-width="3.4"/>
<line x1="879.1" y1="765.7" x2="875.0" y2="783.5" stroke="#26cf88" stroke-width="4.6"/>
<line x1="875.0" y1="783.5" x2="870.8" y2="801.2" stroke="#e01a1a" stroke-width="4.6"/>
<circle cx="800.8" cy="743.4" r="4.2" fill="url(#gH)"/>
<circle cx="852.6" cy="741.0" r="4.2" fill="url(#gH)"/>
<circle cx="870.8" cy="730.2" r="8.5" fill="url(#gO)"/>
<circle cx="800.8" cy="788.0" r="4.2" fill="url(#gH)"/>
<circle cx="852.6" cy="790.4" r="4.2" fill="url(#gH)"/>
<circle cx="870.8" cy="801.2" r="8.5" fill="url(#gO)"/>
<circle cx="789.0" cy="765.7" r="4.4" fill="url(#gH)"/>
<circle cx="806.0" cy="765.7" r="7.9" fill="url(#gN)"/>
<circle cx="848.8" cy="765.7" r="8.2" fill="url(#gC)"/>
<circle cx="879.1" cy="765.7" r="11.9" fill="url(#gS)"/>
<circle cx="917.8" cy="765.7" r="8.5" fill="url(#gO)"/>
<path d="M734.8 657.2 A17.3 17 0 0 1 769.4 657.2" fill="none" stroke="#000" stroke-width="1.6"/>
<line x1="580" y1="553" x2="977" y2="553" stroke="#d2b8ee" stroke-width="2.1" stroke-dasharray="8.5 5" opacity="0.9"/>
<line x1="580" y1="659.2" x2="977" y2="659.2" stroke="#d2b8ee" stroke-width="2.1" stroke-dasharray="8.5 5" opacity="0.9"/>
<line x1="580" y1="765.7" x2="977" y2="765.7" stroke="#d2b8ee" stroke-width="2.1" stroke-dasharray="8.5 5" opacity="0.9"/>
<text x="720.5" y="613.8" font-size="19.8" fill="#000" textLength="86.5" lengthAdjust="spacingAndGlyphs" ><tspan font-style="italic">θ</tspan> = 111.3°</text>
<path d="M938 509.4 H992 M965.1 509.4 V538" fill="none" stroke="#222" stroke-width="0.9"/>
<path d="M929.5 509.4 L940.5 505.6 V513.2 Z M1000.7 509.4 L989.7 505.6 V513.2 Z M965.1 548 L961.4 537 H968.8 Z" fill="#000"/>
<text x="915.5" y="511.7" font-size="21.5" fill="#000" text-anchor="middle" >c</text>
<text x="1015.2" y="511.7" font-size="21.5" fill="#000" text-anchor="middle" >a</text>
<text x="965.0" y="578.7" font-size="21.5" fill="#000" text-anchor="middle" >b</text>
<path d="M960.8 690.5 V661.5 M953.8 671.5 L960.8 660.8 L967.8 671.5 M960.8 735.5 V764.5 M953.8 754.5 L960.8 765.2 L967.8 754.5" fill="none" stroke="#000" stroke-width="2"/>
<text x="930.7" y="719.0" font-size="22.83" fill="#000" font-style="italic" textLength="59.6" lengthAdjust="spacingAndGlyphs" >mirror</text>
<text x="769.0" y="834.0" font-size="22.8" fill="#000" textLength="153.0" lengthAdjust="spacingAndGlyphs" >Symmetry: <tspan font-style="italic">C</tspan><tspan font-size="15.5" dy="6">2<tspan font-style="italic">v</tspan></tspan></text>
<text x="1033.0" y="498.3" font-size="35" fill="#000" font-weight="bold" >d</text>
<rect x="1057" y="513.5" width="367" height="285.3" fill="none" stroke="#2f4474" stroke-width="2"/>
<text x="1073.2" y="546.5" font-size="19.85" fill="#000" textLength="133.5" lengthAdjust="spacingAndGlyphs" >Non-directional</text>
<text x="1239.9" y="546.5" font-size="19.82" fill="#000" textLength="150.9" lengthAdjust="spacingAndGlyphs" >Highly directional</text>
<text x="1131.4" y="591.2" font-size="20.5" fill="#f0a12c" text-anchor="middle" >X</text>
<path d="M1097.2 607.4 H1092.9 V625.4 H1097.2 M1162.1 607.4 H1166.4 V625.4 H1162.1" fill="none" stroke="#000" stroke-width="1.7"/>
<text x="1105.8" y="623.9" font-size="20.8" fill="#000" text-anchor="middle" >O</text>
<text x="1131.3" y="623.9" font-size="20.8" fill="#000" text-anchor="middle" >S</text>
<text x="1154.6" y="623.9" font-size="20.8" fill="#000" text-anchor="middle" >O</text>
<path d="M1113.9 615.5 H1123.7 M1137.7 615.5 H1146.7" stroke="#000" stroke-width="1.7"/>
<path d="M1131.1 596.4 V605.2 M1131.1 627.6 V635.4" stroke="#000" stroke-width="1.6"/>
<text x="1131.4" y="652.2" font-size="20.3" fill="#000" text-anchor="middle" >O</text>
<path d="M1237.4 607.4 H1233.1 V625.4 H1237.4 M1302.3 607.4 H1306.6 V625.4 H1302.3" fill="none" stroke="#000" stroke-width="1.7"/>
<text x="1246.0" y="623.9" font-size="20.8" fill="#000" text-anchor="middle" >O</text>
<text x="1271.5" y="623.9" font-size="20.8" fill="#000" text-anchor="middle" >S</text>
<text x="1294.8" y="623.9" font-size="20.8" fill="#000" text-anchor="middle" >O</text>
<path d="M1254.1 615.5 H1263.9 M1277.9 615.5 H1286.9" stroke="#000" stroke-width="1.7"/>
<path d="M1271.3 596.4 V605.2 M1271.3 627.6 V635.4" stroke="#000" stroke-width="1.6"/>
<text x="1271.6" y="652.2" font-size="20.3" fill="#000" text-anchor="middle" >O</text>
<path d="M1321.4 607.4 H1317.1 V625.4 H1321.4 M1386.3 607.4 H1390.6 V625.4 H1386.3" fill="none" stroke="#000" stroke-width="1.7"/>
<text x="1330.0" y="623.9" font-size="20.8" fill="#000" text-anchor="middle" >O</text>
<text x="1355.5" y="623.9" font-size="20.8" fill="#000" text-anchor="middle" >S</text>
<text x="1378.8" y="623.9" font-size="20.8" fill="#000" text-anchor="middle" >O</text>
<path d="M1338.1 615.5 H1347.9 M1361.9 615.5 H1370.9" stroke="#000" stroke-width="1.7"/>
<path d="M1355.3 596.4 V605.2 M1355.3 627.6 V635.4" stroke="#000" stroke-width="1.6"/>
<text x="1355.6" y="652.2" font-size="20.3" fill="#000" text-anchor="middle" >O</text>
<text x="1167.6" y="607.2" font-size="12.5" fill="#000" textLength="13.0" lengthAdjust="spacingAndGlyphs" ><tspan font-style="italic">n</tspan>−</text>
<line x1="1169" y1="614.8" x2="1178.4" y2="614.8" stroke="#c00000" stroke-width="2.6"/>
<circle cx="1190.9" cy="615.4" r="9.2" fill="#a56bf0"/>
<text x="1190.9" y="622.2" font-size="18.5" fill="#1a0a3a" text-anchor="middle" >M</text>
<line x1="1308" y1="616" x2="1316.3" y2="616" stroke="#d8324a" stroke-width="3.4" stroke-dasharray="1.6 0.6"/>
<text x="1263.0" y="592.0" font-size="19.9" fill="#f0a12c" textLength="73.0" lengthAdjust="spacingAndGlyphs" >CH<tspan font-size="13.3" dy="4">2</tspan><tspan dy="-4">NH</tspan><tspan font-size="13.3" dy="4">3</tspan></text>
<text x="1348.0" y="592.0" font-size="19.9" fill="#f0a12c" textLength="73.0" lengthAdjust="spacingAndGlyphs" >CH<tspan font-size="13.3" dy="4">2</tspan><tspan dy="-4">NH</tspan><tspan font-size="13.3" dy="4">3</tspan></text>
<circle cx="1307.3" cy="570.6" r="5.6" fill="none" stroke="#333" stroke-width="1"/>
<path d="M1303.7 570.6 H1310.8999999999999 M1307.3 567.0 V574.2" stroke="#333" stroke-width="1"/>
<circle cx="1391.8" cy="569.9" r="5.6" fill="none" stroke="#333" stroke-width="1"/>
<path d="M1388.2 569.9 H1395.3999999999999 M1391.8 566.3 V573.5" stroke="#333" stroke-width="1"/>
<circle cx="1287.7" cy="644.4" r="5.4" fill="none" stroke="#6a6a6a" stroke-width="1.1"/>
<path d="M1284.3 644.4 H1291.1000000000001" stroke="#6a6a6a" stroke-width="1.1"/>
<circle cx="1371.9" cy="644.4" r="5.4" fill="none" stroke="#6a6a6a" stroke-width="1.1"/>
<path d="M1368.5 644.4 H1375.3000000000002" stroke="#6a6a6a" stroke-width="1.1"/>
<rect x="1100" y="671.8" width="86.5" height="116" fill="url(#tanfade)"/>
<rect x="1276.2" y="672" width="89.5" height="116" fill="url(#tanfade)"/>
<circle cx="1130" cy="696.5" r="8.8" fill="#fbb11c"/><path d="M1123.5 696.5 H1136.5" stroke="#3a2a00" stroke-width="1.3"/>
<circle cx="1118.3" cy="767.9" r="8.8" fill="#fbb11c"/><path d="M1111.8 767.9 H1124.8" stroke="#3a2a00" stroke-width="1.3"/>
<circle cx="1155.2" cy="696.5" r="8.8" fill="#a767f2"/><path d="M1151.6000000000001 696.5 H1158.8 M1155.2 692.9 V700.1" stroke="#1a0a3a" stroke-width="1.4"/>
<circle cx="1168.9" cy="767.9" r="8.8" fill="#a767f2"/><path d="M1165.3000000000002 767.9 H1172.5 M1168.9 764.3 V771.5" stroke="#1a0a3a" stroke-width="1.4"/>
<line x1="1144.6" y1="757.6" x2="1144.6" y2="727.1" stroke="#000" stroke-width="2.4"/>
<path d="M1144.6 719.1 L1139.8 729.1 H1149.3999999999999 Z" fill="#000"/>
<line x1="1321.2" y1="757.6" x2="1321.2" y2="727.4" stroke="#000" stroke-width="2.4"/>
<path d="M1321.2 719.4 L1316.4 729.4 H1326.0 Z" fill="#000"/>
<line x1="1291.3" y1="697" x2="1315.1999999999998" y2="697" stroke="#e02228" stroke-width="6.4"/>
<path d="M1325.4 686.6 H1324.6 A10.4 10.4 0 0 0 1314.2 697.0 A10.4 10.4 0 0 0 1324.6 707.4 H1325.4" fill="none" stroke="#e02228" stroke-width="6.2"/>
<line x1="1329.6" y1="697" x2="1350.2" y2="697" stroke="#1f9e3f" stroke-width="5.3"/>
<circle cx="1324.8" cy="697" r="4.8" fill="#f9ebc6" stroke="#1f9e3f" stroke-width="2.8"/>
<line x1="1282.6" y1="774.6" x2="1304.8" y2="774.6" stroke="#e02228" stroke-width="6.4"/>
<path d="M1315.0 764.2 H1314.2 A10.4 10.4 0 0 0 1303.8 774.6 A10.4 10.4 0 0 0 1314.2 785.0 H1315.0" fill="none" stroke="#e02228" stroke-width="6.2"/>
<line x1="1340.3999999999999" y1="774.8" x2="1359.1" y2="774.8" stroke="#1f9e3f" stroke-width="5.3"/>
<circle cx="1334.8" cy="774.8" r="5.6" fill="#f9ebc6" stroke="#1f9e3f" stroke-width="2.8"/>
<text x="1092.2" y="836.1" font-size="22.82" fill="#000" textLength="105.3" lengthAdjust="spacingAndGlyphs" >Ionic bond</text>
<text x="1215.1" y="836.1" font-size="23.02" fill="#000" textLength="249.5" lengthAdjust="spacingAndGlyphs" >Charge-assisted H-bond</text>
</svg></body></html>
